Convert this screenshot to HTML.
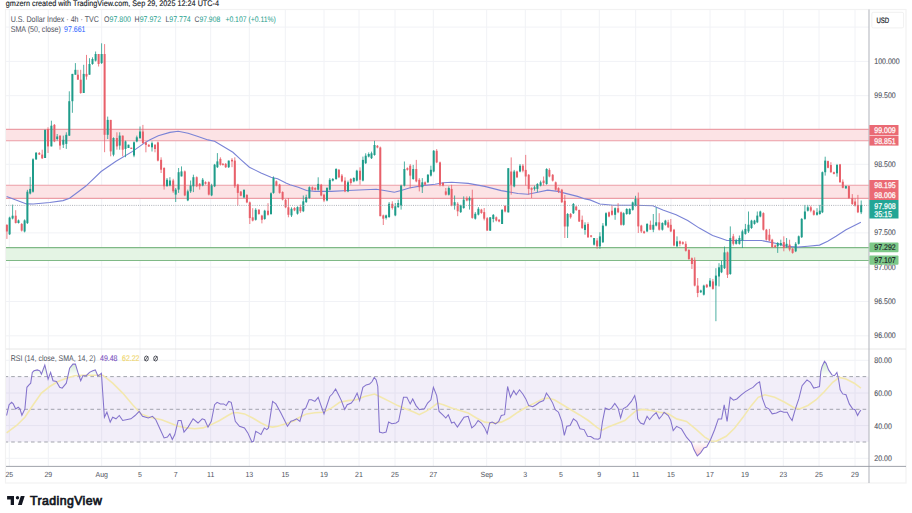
<!DOCTYPE html>
<html><head><meta charset="utf-8"><style>
html,body{margin:0;padding:0;background:#fff;}
body{width:912px;height:513px;overflow:hidden;position:relative;font-family:"Liberation Sans", sans-serif;}
.t{position:absolute;white-space:nowrap;line-height:1;}
</style></head><body>
<svg width="912" height="513" viewBox="0 0 912 513" style="position:absolute;left:0;top:0"><rect x="5.5" y="9.5" width="900.5" height="473.5" fill="#fff" stroke="#f2f2f2" stroke-width="1.2"/><line x1="9.3" y1="10" x2="9.3" y2="466" stroke="#f1f2f6" stroke-width="1"/><line x1="48.3" y1="10" x2="48.3" y2="466" stroke="#f1f2f6" stroke-width="1"/><line x1="101.7" y1="10" x2="101.7" y2="466" stroke="#f1f2f6" stroke-width="1"/><line x1="140" y1="10" x2="140" y2="466" stroke="#f1f2f6" stroke-width="1"/><line x1="175.7" y1="10" x2="175.7" y2="466" stroke="#f1f2f6" stroke-width="1"/><line x1="210.7" y1="10" x2="210.7" y2="466" stroke="#f1f2f6" stroke-width="1"/><line x1="249.3" y1="10" x2="249.3" y2="466" stroke="#f1f2f6" stroke-width="1"/><line x1="285.3" y1="10" x2="285.3" y2="466" stroke="#f1f2f6" stroke-width="1"/><line x1="324" y1="10" x2="324" y2="466" stroke="#f1f2f6" stroke-width="1"/><line x1="359" y1="10" x2="359" y2="466" stroke="#f1f2f6" stroke-width="1"/><line x1="395" y1="10" x2="395" y2="466" stroke="#f1f2f6" stroke-width="1"/><line x1="433.3" y1="10" x2="433.3" y2="466" stroke="#f1f2f6" stroke-width="1"/><line x1="486.7" y1="10" x2="486.7" y2="466" stroke="#f1f2f6" stroke-width="1"/><line x1="525.3" y1="10" x2="525.3" y2="466" stroke="#f1f2f6" stroke-width="1"/><line x1="561" y1="10" x2="561" y2="466" stroke="#f1f2f6" stroke-width="1"/><line x1="599.3" y1="10" x2="599.3" y2="466" stroke="#f1f2f6" stroke-width="1"/><line x1="635.7" y1="10" x2="635.7" y2="466" stroke="#f1f2f6" stroke-width="1"/><line x1="671" y1="10" x2="671" y2="466" stroke="#f1f2f6" stroke-width="1"/><line x1="710" y1="10" x2="710" y2="466" stroke="#f1f2f6" stroke-width="1"/><line x1="745" y1="10" x2="745" y2="466" stroke="#f1f2f6" stroke-width="1"/><line x1="783.3" y1="10" x2="783.3" y2="466" stroke="#f1f2f6" stroke-width="1"/><line x1="819" y1="10" x2="819" y2="466" stroke="#f1f2f6" stroke-width="1"/><line x1="855" y1="10" x2="855" y2="466" stroke="#f1f2f6" stroke-width="1"/><line x1="6" y1="27.1" x2="869" y2="27.1" stroke="#f1f2f6" stroke-width="1"/><line x1="6" y1="61.4" x2="869" y2="61.4" stroke="#f1f2f6" stroke-width="1"/><line x1="6" y1="95.7" x2="869" y2="95.7" stroke="#f1f2f6" stroke-width="1"/><line x1="6" y1="130.0" x2="869" y2="130.0" stroke="#f1f2f6" stroke-width="1"/><line x1="6" y1="164.3" x2="869" y2="164.3" stroke="#f1f2f6" stroke-width="1"/><line x1="6" y1="198.6" x2="869" y2="198.6" stroke="#f1f2f6" stroke-width="1"/><line x1="6" y1="232.9" x2="869" y2="232.9" stroke="#f1f2f6" stroke-width="1"/><line x1="6" y1="267.2" x2="869" y2="267.2" stroke="#f1f2f6" stroke-width="1"/><line x1="6" y1="301.5" x2="869" y2="301.5" stroke="#f1f2f6" stroke-width="1"/><line x1="6" y1="335.8" x2="869" y2="335.8" stroke="#f1f2f6" stroke-width="1"/><rect x="6" y="129.4" width="863" height="11.4" fill="#fce3e5"/><line x1="6" y1="129.4" x2="869" y2="129.4" stroke="#ec9ea6" stroke-width="1.1"/><line x1="6" y1="140.8" x2="869" y2="140.8" stroke="#ec9ea6" stroke-width="1.1"/><rect x="6" y="185.2" width="863" height="13.2" fill="#fce3e5"/><line x1="6" y1="185.2" x2="869" y2="185.2" stroke="#ec9ea6" stroke-width="1.1"/><line x1="6" y1="198.4" x2="869" y2="198.4" stroke="#ec9ea6" stroke-width="1.1"/><rect x="6" y="247.6" width="863" height="12.9" fill="#e4f4e4"/><line x1="6" y1="247.6" x2="869" y2="247.6" stroke="#7fb986" stroke-width="1.1"/><line x1="6" y1="260.5" x2="869" y2="260.5" stroke="#7fb986" stroke-width="1.1"/><polyline points="6.6,196.5 16.6,200.3 26.5,203.9 33.2,204.0 49.7,202.5 63.0,200.6 69.6,198.2 78.0,192.0 86.2,185.8 101.1,171.5 116.0,161.3 132.6,151.4 144.2,143.1 150.0,139.8 158.3,135.7 169.9,132.4 178.2,131.3 188.1,133.3 198.0,136.6 208.0,139.9 214.6,141.2 224.6,147.3 232.9,152.3 241.1,159.8 249.4,167.2 261.0,173.0 271.0,177.2 277.6,178.8 285.9,183.0 290.0,184.7 298.3,187.2 306.6,190.5 314.9,191.4 331.4,191.4 348.0,190.5 364.6,189.7 376.2,189.2 382.8,190.2 394.4,192.2 401.1,190.5 409.3,188.0 422.6,185.6 435.0,184.2 443.3,182.8 451.6,182.3 468.2,183.4 484.7,186.4 501.3,190.6 517.9,193.5 527.8,194.2 537.8,192.2 547.7,190.1 557.7,191.4 567.6,193.9 577.5,196.4 585.0,198.9 590.0,199.9 599.9,204.0 613.2,205.2 634.7,205.2 652.9,205.7 662.9,209.9 676.1,214.8 687.7,220.6 699.3,228.1 712.6,235.5 720.0,238.0 727.0,240.5 736.6,240.5 761.4,240.5 769.7,242.1 778.0,243.8 786.3,246.3 797.9,247.1 807.8,246.3 819.5,245.1 827.7,241.3 836.0,236.3 846.0,229.7 860.9,222.3" fill="none" stroke="#7a83d6" stroke-width="1.1"/><line x1="6.9" y1="224.0" x2="6.9" y2="238.9" stroke="#e8606a" stroke-width="0.8"/><rect x="5.9" y="225.0" width="2" height="6.5" fill="#e8606a"/><line x1="9.6" y1="216.7" x2="9.6" y2="235.0" stroke="#1f9c8a" stroke-width="0.8"/><rect x="8.6" y="217.6" width="2" height="16.7" fill="#1f9c8a"/><line x1="12.6" y1="204.6" x2="12.6" y2="219.4" stroke="#1f9c8a" stroke-width="0.8"/><rect x="11.6" y="215.7" width="2" height="2.8" fill="#1f9c8a"/><line x1="15.7" y1="210.2" x2="15.7" y2="223.5" stroke="#e8606a" stroke-width="0.8"/><rect x="14.7" y="215.7" width="2" height="7.3" fill="#e8606a"/><line x1="18.5" y1="219.5" x2="18.5" y2="223.5" stroke="#1f9c8a" stroke-width="0.8"/><rect x="17.5" y="220.4" width="2" height="2.6" fill="#1f9c8a"/><line x1="21.7" y1="223.0" x2="21.7" y2="231.5" stroke="#e8606a" stroke-width="0.8"/><rect x="20.7" y="224.0" width="2" height="6.6" fill="#e8606a"/><line x1="24.6" y1="219.4" x2="24.6" y2="232.4" stroke="#1f9c8a" stroke-width="0.8"/><rect x="23.6" y="220.4" width="2" height="11.1" fill="#1f9c8a"/><line x1="27.4" y1="189.8" x2="27.4" y2="224.0" stroke="#1f9c8a" stroke-width="0.8"/><rect x="26.4" y="191.7" width="2" height="31.4" fill="#1f9c8a"/><line x1="30.2" y1="176.9" x2="30.2" y2="194.4" stroke="#1f9c8a" stroke-width="0.8"/><rect x="29.2" y="188.9" width="2" height="4.6" fill="#1f9c8a"/><line x1="33.0" y1="158.3" x2="33.0" y2="192.6" stroke="#1f9c8a" stroke-width="0.8"/><rect x="32.0" y="159.3" width="2" height="32.4" fill="#1f9c8a"/><line x1="36.1" y1="152.0" x2="36.1" y2="160.0" stroke="#1f9c8a" stroke-width="0.8"/><rect x="35.1" y="152.8" width="2" height="6.5" fill="#1f9c8a"/><line x1="39.3" y1="152.0" x2="39.3" y2="155.0" stroke="#e8606a" stroke-width="0.8"/><rect x="38.3" y="153.0" width="2" height="1.5" fill="#e8606a"/><line x1="42.2" y1="149.7" x2="42.2" y2="159.0" stroke="#e8606a" stroke-width="0.8"/><rect x="41.2" y="154.6" width="2" height="3.7" fill="#e8606a"/><line x1="45.1" y1="129.8" x2="45.1" y2="158.0" stroke="#1f9c8a" stroke-width="0.8"/><rect x="44.1" y="129.8" width="2" height="28.2" fill="#1f9c8a"/><line x1="48.0" y1="127.3" x2="48.0" y2="153.0" stroke="#e8606a" stroke-width="0.8"/><rect x="47.0" y="129.0" width="2" height="17.4" fill="#e8606a"/><line x1="51.4" y1="120.7" x2="51.4" y2="146.4" stroke="#1f9c8a" stroke-width="0.8"/><rect x="50.4" y="125.7" width="2" height="20.7" fill="#1f9c8a"/><line x1="54.4" y1="124.0" x2="54.4" y2="142.2" stroke="#e8606a" stroke-width="0.8"/><rect x="53.4" y="124.9" width="2" height="16.5" fill="#e8606a"/><line x1="57.2" y1="134.0" x2="57.2" y2="140.6" stroke="#1f9c8a" stroke-width="0.8"/><rect x="56.2" y="136.5" width="2" height="2.5" fill="#1f9c8a"/><line x1="60.0" y1="135.6" x2="60.0" y2="149.7" stroke="#e8606a" stroke-width="0.8"/><rect x="59.0" y="135.6" width="2" height="10.0" fill="#e8606a"/><line x1="63.3" y1="135.6" x2="63.3" y2="148.0" stroke="#1f9c8a" stroke-width="0.8"/><rect x="62.3" y="139.8" width="2" height="4.9" fill="#1f9c8a"/><line x1="66.3" y1="132.3" x2="66.3" y2="148.9" stroke="#1f9c8a" stroke-width="0.8"/><rect x="65.3" y="134.8" width="2" height="9.1" fill="#1f9c8a"/><line x1="69.3" y1="91.3" x2="69.3" y2="136.0" stroke="#1f9c8a" stroke-width="0.8"/><rect x="68.3" y="101.2" width="2" height="34.4" fill="#1f9c8a"/><line x1="72.4" y1="73.9" x2="72.4" y2="112.8" stroke="#1f9c8a" stroke-width="0.8"/><rect x="71.4" y="73.9" width="2" height="27.3" fill="#1f9c8a"/><line x1="75.4" y1="63.1" x2="75.4" y2="74.7" stroke="#1f9c8a" stroke-width="0.8"/><rect x="74.4" y="69.8" width="2" height="4.9" fill="#1f9c8a"/><line x1="77.9" y1="69.8" x2="77.9" y2="79.7" stroke="#e8606a" stroke-width="0.8"/><rect x="76.9" y="74.7" width="2" height="5.0" fill="#e8606a"/><line x1="80.7" y1="69.8" x2="80.7" y2="93.8" stroke="#e8606a" stroke-width="0.8"/><rect x="79.7" y="79.7" width="2" height="13.3" fill="#e8606a"/><line x1="83.7" y1="64.8" x2="83.7" y2="93.0" stroke="#1f9c8a" stroke-width="0.8"/><rect x="82.7" y="73.9" width="2" height="19.1" fill="#1f9c8a"/><line x1="86.5" y1="54.9" x2="86.5" y2="79.7" stroke="#e8606a" stroke-width="0.8"/><rect x="85.5" y="73.9" width="2" height="2.6" fill="#e8606a"/><line x1="89.5" y1="58.2" x2="89.5" y2="74.7" stroke="#1f9c8a" stroke-width="0.8"/><rect x="88.5" y="64.0" width="2" height="10.7" fill="#1f9c8a"/><line x1="92.5" y1="57.3" x2="92.5" y2="64.8" stroke="#1f9c8a" stroke-width="0.8"/><rect x="91.5" y="59.0" width="2" height="5.0" fill="#1f9c8a"/><line x1="95.6" y1="51.5" x2="95.6" y2="61.5" stroke="#1f9c8a" stroke-width="0.8"/><rect x="94.6" y="54.0" width="2" height="6.6" fill="#1f9c8a"/><line x1="98.6" y1="54.0" x2="98.6" y2="66.5" stroke="#e8606a" stroke-width="0.8"/><rect x="97.6" y="54.0" width="2" height="10.0" fill="#e8606a"/><line x1="101.6" y1="43.3" x2="101.6" y2="64.0" stroke="#1f9c8a" stroke-width="0.8"/><rect x="100.6" y="54.0" width="2" height="9.1" fill="#1f9c8a"/><line x1="104.6" y1="44.1" x2="104.6" y2="152.2" stroke="#e8606a" stroke-width="0.8"/><rect x="103.6" y="54.0" width="2" height="80.8" fill="#e8606a"/><line x1="107.7" y1="116.6" x2="107.7" y2="139.0" stroke="#1f9c8a" stroke-width="0.8"/><rect x="106.7" y="119.9" width="2" height="14.9" fill="#1f9c8a"/><line x1="110.7" y1="119.9" x2="110.7" y2="156.3" stroke="#e8606a" stroke-width="0.8"/><rect x="109.7" y="119.9" width="2" height="31.5" fill="#e8606a"/><line x1="113.5" y1="137.3" x2="113.5" y2="156.3" stroke="#1f9c8a" stroke-width="0.8"/><rect x="112.5" y="138.0" width="2" height="16.7" fill="#1f9c8a"/><line x1="116.9" y1="132.3" x2="116.9" y2="149.7" stroke="#e8606a" stroke-width="0.8"/><rect x="115.9" y="138.0" width="2" height="8.4" fill="#e8606a"/><line x1="119.7" y1="132.3" x2="119.7" y2="149.7" stroke="#1f9c8a" stroke-width="0.8"/><rect x="118.7" y="135.6" width="2" height="10.0" fill="#1f9c8a"/><line x1="122.7" y1="135.6" x2="122.7" y2="156.3" stroke="#e8606a" stroke-width="0.8"/><rect x="121.7" y="135.6" width="2" height="14.1" fill="#e8606a"/><line x1="125.5" y1="140.6" x2="125.5" y2="157.2" stroke="#1f9c8a" stroke-width="0.8"/><rect x="124.5" y="141.4" width="2" height="7.5" fill="#1f9c8a"/><line x1="128.5" y1="144.7" x2="128.5" y2="148.0" stroke="#1f9c8a" stroke-width="0.8"/><rect x="127.5" y="144.7" width="2" height="3.3" fill="#1f9c8a"/><line x1="131.3" y1="147.7" x2="131.3" y2="148.9" stroke="#e8606a" stroke-width="0.8"/><rect x="130.3" y="147.7" width="2" height="1.2" fill="#e8606a"/><line x1="134.0" y1="141.4" x2="134.0" y2="157.2" stroke="#1f9c8a" stroke-width="0.8"/><rect x="133.0" y="142.3" width="2" height="13.2" fill="#1f9c8a"/><line x1="136.8" y1="135.6" x2="136.8" y2="142.3" stroke="#1f9c8a" stroke-width="0.8"/><rect x="135.8" y="137.3" width="2" height="4.1" fill="#1f9c8a"/><line x1="140.0" y1="126.5" x2="140.0" y2="139.0" stroke="#1f9c8a" stroke-width="0.8"/><rect x="139.0" y="131.5" width="2" height="6.5" fill="#1f9c8a"/><line x1="142.9" y1="124.9" x2="142.9" y2="143.9" stroke="#e8606a" stroke-width="0.8"/><rect x="141.9" y="131.5" width="2" height="11.5" fill="#e8606a"/><line x1="145.9" y1="141.5" x2="145.9" y2="152.3" stroke="#e8606a" stroke-width="0.8"/><rect x="144.9" y="142.4" width="2" height="2.5" fill="#e8606a"/><line x1="148.8" y1="144.0" x2="148.8" y2="147.0" stroke="#e8606a" stroke-width="0.8"/><rect x="147.8" y="144.9" width="2" height="1.6" fill="#e8606a"/><line x1="152.0" y1="141.5" x2="152.0" y2="151.5" stroke="#1f9c8a" stroke-width="0.8"/><rect x="151.0" y="143.2" width="2" height="4.1" fill="#1f9c8a"/><line x1="155.0" y1="144.0" x2="155.0" y2="152.3" stroke="#e8606a" stroke-width="0.8"/><rect x="154.0" y="144.9" width="2" height="4.1" fill="#e8606a"/><line x1="157.9" y1="141.5" x2="157.9" y2="161.4" stroke="#e8606a" stroke-width="0.8"/><rect x="156.9" y="142.4" width="2" height="18.2" fill="#e8606a"/><line x1="161.1" y1="157.3" x2="161.1" y2="173.0" stroke="#e8606a" stroke-width="0.8"/><rect x="160.1" y="159.8" width="2" height="9.9" fill="#e8606a"/><line x1="164.1" y1="167.2" x2="164.1" y2="189.6" stroke="#e8606a" stroke-width="0.8"/><rect x="163.1" y="168.0" width="2" height="18.3" fill="#e8606a"/><line x1="167.0" y1="178.0" x2="167.0" y2="186.3" stroke="#1f9c8a" stroke-width="0.8"/><rect x="166.0" y="179.7" width="2" height="6.6" fill="#1f9c8a"/><line x1="169.9" y1="177.2" x2="169.9" y2="186.3" stroke="#1f9c8a" stroke-width="0.8"/><rect x="168.9" y="180.5" width="2" height="5.0" fill="#1f9c8a"/><line x1="173.2" y1="178.8" x2="173.2" y2="192.9" stroke="#e8606a" stroke-width="0.8"/><rect x="172.2" y="180.5" width="2" height="10.8" fill="#e8606a"/><line x1="175.7" y1="188.0" x2="175.7" y2="202.0" stroke="#1f9c8a" stroke-width="0.8"/><rect x="174.7" y="189.6" width="2" height="5.0" fill="#1f9c8a"/><line x1="178.6" y1="168.0" x2="178.6" y2="192.9" stroke="#1f9c8a" stroke-width="0.8"/><rect x="177.6" y="172.2" width="2" height="17.4" fill="#1f9c8a"/><line x1="181.5" y1="166.4" x2="181.5" y2="176.4" stroke="#1f9c8a" stroke-width="0.8"/><rect x="180.5" y="171.4" width="2" height="5.0" fill="#1f9c8a"/><line x1="184.8" y1="170.5" x2="184.8" y2="196.2" stroke="#e8606a" stroke-width="0.8"/><rect x="183.8" y="171.4" width="2" height="24.0" fill="#e8606a"/><line x1="187.8" y1="189.6" x2="187.8" y2="201.2" stroke="#1f9c8a" stroke-width="0.8"/><rect x="186.8" y="191.3" width="2" height="9.1" fill="#1f9c8a"/><line x1="190.6" y1="180.5" x2="190.6" y2="192.9" stroke="#1f9c8a" stroke-width="0.8"/><rect x="189.6" y="185.5" width="2" height="5.8" fill="#1f9c8a"/><line x1="193.4" y1="174.7" x2="193.4" y2="192.1" stroke="#1f9c8a" stroke-width="0.8"/><rect x="192.4" y="177.2" width="2" height="9.1" fill="#1f9c8a"/><line x1="196.7" y1="176.4" x2="196.7" y2="187.1" stroke="#e8606a" stroke-width="0.8"/><rect x="195.7" y="177.2" width="2" height="9.1" fill="#e8606a"/><line x1="199.7" y1="183.0" x2="199.7" y2="189.6" stroke="#e8606a" stroke-width="0.8"/><rect x="198.7" y="183.8" width="2" height="2.5" fill="#e8606a"/><line x1="202.7" y1="178.0" x2="202.7" y2="186.3" stroke="#1f9c8a" stroke-width="0.8"/><rect x="201.7" y="179.7" width="2" height="5.8" fill="#1f9c8a"/><line x1="205.5" y1="181.3" x2="205.5" y2="184.6" stroke="#e8606a" stroke-width="0.8"/><rect x="204.5" y="182.1" width="2" height="1.7" fill="#e8606a"/><line x1="208.8" y1="181.3" x2="208.8" y2="195.4" stroke="#e8606a" stroke-width="0.8"/><rect x="207.8" y="182.1" width="2" height="12.5" fill="#e8606a"/><line x1="211.6" y1="183.8" x2="211.6" y2="196.2" stroke="#1f9c8a" stroke-width="0.8"/><rect x="210.6" y="185.5" width="2" height="9.9" fill="#1f9c8a"/><line x1="214.6" y1="163.9" x2="214.6" y2="187.1" stroke="#1f9c8a" stroke-width="0.8"/><rect x="213.6" y="164.7" width="2" height="21.6" fill="#1f9c8a"/><line x1="217.4" y1="153.1" x2="217.4" y2="168.0" stroke="#1f9c8a" stroke-width="0.8"/><rect x="216.4" y="161.4" width="2" height="5.8" fill="#1f9c8a"/><line x1="220.4" y1="157.3" x2="220.4" y2="165.6" stroke="#e8606a" stroke-width="0.8"/><rect x="219.4" y="158.9" width="2" height="5.8" fill="#e8606a"/><line x1="222.9" y1="163.0" x2="222.9" y2="165.6" stroke="#e8606a" stroke-width="0.8"/><rect x="221.9" y="163.9" width="2" height="1.0" fill="#e8606a"/><line x1="225.7" y1="163.0" x2="225.7" y2="168.0" stroke="#e8606a" stroke-width="0.8"/><rect x="224.7" y="163.9" width="2" height="3.3" fill="#e8606a"/><line x1="228.7" y1="160.6" x2="228.7" y2="168.0" stroke="#1f9c8a" stroke-width="0.8"/><rect x="227.7" y="160.6" width="2" height="6.6" fill="#1f9c8a"/><line x1="232.0" y1="158.1" x2="232.0" y2="167.2" stroke="#e8606a" stroke-width="0.8"/><rect x="231.0" y="159.8" width="2" height="1.6" fill="#e8606a"/><line x1="234.8" y1="157.3" x2="234.8" y2="188.0" stroke="#e8606a" stroke-width="0.8"/><rect x="233.8" y="160.6" width="2" height="25.7" fill="#e8606a"/><line x1="237.8" y1="183.8" x2="237.8" y2="205.7" stroke="#e8606a" stroke-width="0.8"/><rect x="236.8" y="184.6" width="2" height="8.3" fill="#e8606a"/><line x1="240.8" y1="191.0" x2="240.8" y2="196.2" stroke="#e8606a" stroke-width="0.8"/><rect x="239.8" y="191.6" width="2" height="4.1" fill="#e8606a"/><line x1="244.0" y1="189.1" x2="244.0" y2="198.2" stroke="#1f9c8a" stroke-width="0.8"/><rect x="243.0" y="190.0" width="2" height="7.4" fill="#1f9c8a"/><line x1="246.9" y1="194.1" x2="246.9" y2="203.2" stroke="#e8606a" stroke-width="0.8"/><rect x="245.9" y="195.0" width="2" height="7.4" fill="#e8606a"/><line x1="249.8" y1="201.5" x2="249.8" y2="224.0" stroke="#e8606a" stroke-width="0.8"/><rect x="248.8" y="202.4" width="2" height="15.7" fill="#e8606a"/><line x1="252.7" y1="208.2" x2="252.7" y2="221.4" stroke="#e8606a" stroke-width="0.8"/><rect x="251.7" y="217.3" width="2" height="3.3" fill="#e8606a"/><line x1="255.7" y1="208.2" x2="255.7" y2="220.6" stroke="#1f9c8a" stroke-width="0.8"/><rect x="254.7" y="209.8" width="2" height="10.0" fill="#1f9c8a"/><line x1="258.9" y1="209.0" x2="258.9" y2="214.8" stroke="#e8606a" stroke-width="0.8"/><rect x="257.9" y="209.8" width="2" height="4.2" fill="#e8606a"/><line x1="261.9" y1="214.8" x2="261.9" y2="223.4" stroke="#e8606a" stroke-width="0.8"/><rect x="260.9" y="215.6" width="2" height="4.2" fill="#e8606a"/><line x1="264.7" y1="209.8" x2="264.7" y2="219.8" stroke="#1f9c8a" stroke-width="0.8"/><rect x="263.7" y="210.7" width="2" height="8.3" fill="#1f9c8a"/><line x1="268.0" y1="203.2" x2="268.0" y2="215.6" stroke="#e8606a" stroke-width="0.8"/><rect x="267.0" y="210.7" width="2" height="4.1" fill="#e8606a"/><line x1="271.0" y1="192.4" x2="271.0" y2="214.8" stroke="#1f9c8a" stroke-width="0.8"/><rect x="270.0" y="193.3" width="2" height="20.7" fill="#1f9c8a"/><line x1="273.5" y1="176.4" x2="273.5" y2="193.7" stroke="#1f9c8a" stroke-width="0.8"/><rect x="272.5" y="178.0" width="2" height="14.9" fill="#1f9c8a"/><line x1="276.4" y1="180.5" x2="276.4" y2="186.3" stroke="#e8606a" stroke-width="0.8"/><rect x="275.4" y="181.3" width="2" height="4.2" fill="#e8606a"/><line x1="279.6" y1="183.8" x2="279.6" y2="193.7" stroke="#e8606a" stroke-width="0.8"/><rect x="278.6" y="184.6" width="2" height="8.3" fill="#e8606a"/><line x1="282.6" y1="191.3" x2="282.6" y2="200.4" stroke="#e8606a" stroke-width="0.8"/><rect x="281.6" y="192.0" width="2" height="7.5" fill="#e8606a"/><line x1="285.6" y1="199.0" x2="285.6" y2="208.2" stroke="#e8606a" stroke-width="0.8"/><rect x="284.6" y="199.9" width="2" height="7.4" fill="#e8606a"/><line x1="288.4" y1="198.0" x2="288.4" y2="217.3" stroke="#e8606a" stroke-width="0.8"/><rect x="287.4" y="207.3" width="2" height="7.5" fill="#e8606a"/><line x1="291.5" y1="207.3" x2="291.5" y2="217.0" stroke="#1f9c8a" stroke-width="0.8"/><rect x="290.5" y="208.8" width="2" height="6.6" fill="#1f9c8a"/><line x1="294.5" y1="207.1" x2="294.5" y2="211.2" stroke="#e8606a" stroke-width="0.8"/><rect x="293.5" y="208.0" width="2" height="2.4" fill="#e8606a"/><line x1="297.5" y1="206.3" x2="297.5" y2="214.6" stroke="#1f9c8a" stroke-width="0.8"/><rect x="296.5" y="207.1" width="2" height="6.6" fill="#1f9c8a"/><line x1="300.4" y1="204.6" x2="300.4" y2="212.9" stroke="#e8606a" stroke-width="0.8"/><rect x="299.4" y="207.1" width="2" height="4.1" fill="#e8606a"/><line x1="303.3" y1="195.5" x2="303.3" y2="212.1" stroke="#1f9c8a" stroke-width="0.8"/><rect x="302.3" y="201.3" width="2" height="9.9" fill="#1f9c8a"/><line x1="306.2" y1="194.7" x2="306.2" y2="203.0" stroke="#1f9c8a" stroke-width="0.8"/><rect x="305.2" y="197.2" width="2" height="4.9" fill="#1f9c8a"/><line x1="309.4" y1="186.4" x2="309.4" y2="198.8" stroke="#1f9c8a" stroke-width="0.8"/><rect x="308.4" y="187.2" width="2" height="10.8" fill="#1f9c8a"/><line x1="312.4" y1="186.4" x2="312.4" y2="190.5" stroke="#e8606a" stroke-width="0.8"/><rect x="311.4" y="187.2" width="2" height="2.5" fill="#e8606a"/><line x1="315.2" y1="187.2" x2="315.2" y2="190.5" stroke="#e8606a" stroke-width="0.8"/><rect x="314.2" y="188.0" width="2" height="1.7" fill="#e8606a"/><line x1="318.2" y1="177.3" x2="318.2" y2="190.5" stroke="#1f9c8a" stroke-width="0.8"/><rect x="317.2" y="183.9" width="2" height="5.8" fill="#1f9c8a"/><line x1="321.2" y1="183.9" x2="321.2" y2="196.3" stroke="#e8606a" stroke-width="0.8"/><rect x="320.2" y="184.7" width="2" height="10.8" fill="#e8606a"/><line x1="324.0" y1="193.8" x2="324.0" y2="202.1" stroke="#e8606a" stroke-width="0.8"/><rect x="323.0" y="194.7" width="2" height="5.8" fill="#e8606a"/><line x1="327.0" y1="187.2" x2="327.0" y2="201.3" stroke="#1f9c8a" stroke-width="0.8"/><rect x="326.0" y="188.0" width="2" height="12.5" fill="#1f9c8a"/><line x1="329.8" y1="178.1" x2="329.8" y2="190.5" stroke="#1f9c8a" stroke-width="0.8"/><rect x="328.8" y="179.8" width="2" height="9.9" fill="#1f9c8a"/><line x1="332.8" y1="178.0" x2="332.8" y2="181.4" stroke="#1f9c8a" stroke-width="0.8"/><rect x="331.8" y="179.0" width="2" height="1.6" fill="#1f9c8a"/><line x1="336.1" y1="168.2" x2="336.1" y2="179.8" stroke="#1f9c8a" stroke-width="0.8"/><rect x="335.1" y="169.0" width="2" height="10.0" fill="#1f9c8a"/><line x1="338.9" y1="169.0" x2="338.9" y2="178.1" stroke="#e8606a" stroke-width="0.8"/><rect x="337.9" y="169.8" width="2" height="7.5" fill="#e8606a"/><line x1="341.9" y1="174.0" x2="341.9" y2="182.3" stroke="#e8606a" stroke-width="0.8"/><rect x="340.9" y="175.6" width="2" height="5.8" fill="#e8606a"/><line x1="345.0" y1="177.3" x2="345.0" y2="192.2" stroke="#e8606a" stroke-width="0.8"/><rect x="344.0" y="180.6" width="2" height="10.8" fill="#e8606a"/><line x1="348.0" y1="180.6" x2="348.0" y2="192.2" stroke="#1f9c8a" stroke-width="0.8"/><rect x="347.0" y="182.3" width="2" height="9.1" fill="#1f9c8a"/><line x1="350.8" y1="178.1" x2="350.8" y2="184.7" stroke="#e8606a" stroke-width="0.8"/><rect x="349.8" y="179.0" width="2" height="4.0" fill="#e8606a"/><line x1="353.8" y1="177.3" x2="353.8" y2="182.3" stroke="#1f9c8a" stroke-width="0.8"/><rect x="352.8" y="178.0" width="2" height="3.4" fill="#1f9c8a"/><line x1="356.8" y1="169.8" x2="356.8" y2="181.4" stroke="#1f9c8a" stroke-width="0.8"/><rect x="355.8" y="170.7" width="2" height="9.9" fill="#1f9c8a"/><line x1="360.0" y1="167.3" x2="360.0" y2="184.7" stroke="#e8606a" stroke-width="0.8"/><rect x="359.0" y="170.7" width="2" height="9.1" fill="#e8606a"/><line x1="362.9" y1="156.6" x2="362.9" y2="181.4" stroke="#1f9c8a" stroke-width="0.8"/><rect x="361.9" y="159.9" width="2" height="20.7" fill="#1f9c8a"/><line x1="365.7" y1="153.3" x2="365.7" y2="164.0" stroke="#1f9c8a" stroke-width="0.8"/><rect x="364.7" y="155.7" width="2" height="7.5" fill="#1f9c8a"/><line x1="368.7" y1="152.4" x2="368.7" y2="157.4" stroke="#1f9c8a" stroke-width="0.8"/><rect x="367.7" y="154.0" width="2" height="2.6" fill="#1f9c8a"/><line x1="371.5" y1="151.6" x2="371.5" y2="159.0" stroke="#1f9c8a" stroke-width="0.8"/><rect x="370.5" y="153.3" width="2" height="4.9" fill="#1f9c8a"/><line x1="374.5" y1="140.8" x2="374.5" y2="155.7" stroke="#1f9c8a" stroke-width="0.8"/><rect x="373.5" y="145.0" width="2" height="10.0" fill="#1f9c8a"/><line x1="377.4" y1="145.0" x2="377.4" y2="148.3" stroke="#e8606a" stroke-width="0.8"/><rect x="376.4" y="145.8" width="2" height="1.7" fill="#e8606a"/><line x1="380.3" y1="146.6" x2="380.3" y2="216.2" stroke="#e8606a" stroke-width="0.8"/><rect x="379.3" y="147.5" width="2" height="68.7" fill="#e8606a"/><line x1="383.3" y1="214.6" x2="383.3" y2="225.0" stroke="#e8606a" stroke-width="0.8"/><rect x="382.3" y="215.4" width="2" height="3.3" fill="#e8606a"/><line x1="386.1" y1="214.6" x2="386.1" y2="219.5" stroke="#1f9c8a" stroke-width="0.8"/><rect x="385.1" y="215.4" width="2" height="2.5" fill="#1f9c8a"/><line x1="389.1" y1="202.1" x2="389.1" y2="217.9" stroke="#1f9c8a" stroke-width="0.8"/><rect x="388.1" y="203.8" width="2" height="13.2" fill="#1f9c8a"/><line x1="392.3" y1="201.3" x2="392.3" y2="209.6" stroke="#e8606a" stroke-width="0.8"/><rect x="391.3" y="203.8" width="2" height="4.2" fill="#e8606a"/><line x1="395.3" y1="203.0" x2="395.3" y2="216.2" stroke="#1f9c8a" stroke-width="0.8"/><rect x="394.3" y="206.3" width="2" height="9.1" fill="#1f9c8a"/><line x1="398.2" y1="199.7" x2="398.2" y2="207.9" stroke="#1f9c8a" stroke-width="0.8"/><rect x="397.2" y="203.0" width="2" height="4.1" fill="#1f9c8a"/><line x1="401.1" y1="184.7" x2="401.1" y2="209.6" stroke="#1f9c8a" stroke-width="0.8"/><rect x="400.1" y="185.6" width="2" height="19.9" fill="#1f9c8a"/><line x1="404.4" y1="161.5" x2="404.4" y2="186.4" stroke="#1f9c8a" stroke-width="0.8"/><rect x="403.4" y="169.0" width="2" height="16.6" fill="#1f9c8a"/><line x1="407.4" y1="167.4" x2="407.4" y2="170.6" stroke="#e8606a" stroke-width="0.8"/><rect x="406.4" y="168.2" width="2" height="1.6" fill="#e8606a"/><line x1="410.2" y1="164.0" x2="410.2" y2="188.3" stroke="#e8606a" stroke-width="0.8"/><rect x="409.2" y="165.7" width="2" height="9.9" fill="#e8606a"/><line x1="413.2" y1="164.9" x2="413.2" y2="179.8" stroke="#1f9c8a" stroke-width="0.8"/><rect x="412.2" y="169.0" width="2" height="10.0" fill="#1f9c8a"/><line x1="416.3" y1="159.9" x2="416.3" y2="182.3" stroke="#e8606a" stroke-width="0.8"/><rect x="415.3" y="169.0" width="2" height="12.4" fill="#e8606a"/><line x1="419.3" y1="178.1" x2="419.3" y2="191.4" stroke="#e8606a" stroke-width="0.8"/><rect x="418.3" y="179.8" width="2" height="7.4" fill="#e8606a"/><line x1="422.3" y1="178.1" x2="422.3" y2="193.0" stroke="#1f9c8a" stroke-width="0.8"/><rect x="421.3" y="182.3" width="2" height="4.9" fill="#1f9c8a"/><line x1="425.1" y1="181.4" x2="425.1" y2="185.6" stroke="#e8606a" stroke-width="0.8"/><rect x="424.1" y="182.3" width="2" height="2.4" fill="#e8606a"/><line x1="427.9" y1="174.0" x2="427.9" y2="183.1" stroke="#1f9c8a" stroke-width="0.8"/><rect x="426.9" y="174.8" width="2" height="7.5" fill="#1f9c8a"/><line x1="430.9" y1="165.7" x2="430.9" y2="176.5" stroke="#1f9c8a" stroke-width="0.8"/><rect x="429.9" y="169.8" width="2" height="5.8" fill="#1f9c8a"/><line x1="433.7" y1="150.0" x2="433.7" y2="172.3" stroke="#1f9c8a" stroke-width="0.8"/><rect x="432.7" y="150.8" width="2" height="20.7" fill="#1f9c8a"/><line x1="436.7" y1="149.1" x2="436.7" y2="163.2" stroke="#e8606a" stroke-width="0.8"/><rect x="435.7" y="150.8" width="2" height="11.6" fill="#e8606a"/><line x1="440.0" y1="161.6" x2="440.0" y2="186.4" stroke="#e8606a" stroke-width="0.8"/><rect x="439.0" y="162.4" width="2" height="22.4" fill="#e8606a"/><line x1="443.0" y1="182.3" x2="443.0" y2="186.4" stroke="#e8606a" stroke-width="0.8"/><rect x="442.0" y="182.8" width="2" height="2.8" fill="#e8606a"/><line x1="445.8" y1="188.0" x2="445.8" y2="195.5" stroke="#e8606a" stroke-width="0.8"/><rect x="444.8" y="191.4" width="2" height="3.3" fill="#e8606a"/><line x1="448.8" y1="186.4" x2="448.8" y2="195.5" stroke="#1f9c8a" stroke-width="0.8"/><rect x="447.8" y="188.0" width="2" height="6.7" fill="#1f9c8a"/><line x1="451.6" y1="184.8" x2="451.6" y2="206.3" stroke="#e8606a" stroke-width="0.8"/><rect x="450.6" y="188.9" width="2" height="16.6" fill="#e8606a"/><line x1="454.6" y1="195.5" x2="454.6" y2="209.6" stroke="#1f9c8a" stroke-width="0.8"/><rect x="453.6" y="202.2" width="2" height="3.3" fill="#1f9c8a"/><line x1="457.7" y1="202.2" x2="457.7" y2="216.2" stroke="#e8606a" stroke-width="0.8"/><rect x="456.7" y="203.8" width="2" height="7.5" fill="#e8606a"/><line x1="460.7" y1="204.7" x2="460.7" y2="213.0" stroke="#1f9c8a" stroke-width="0.8"/><rect x="459.7" y="205.5" width="2" height="6.6" fill="#1f9c8a"/><line x1="463.7" y1="196.4" x2="463.7" y2="208.8" stroke="#1f9c8a" stroke-width="0.8"/><rect x="462.7" y="199.7" width="2" height="8.3" fill="#1f9c8a"/><line x1="466.8" y1="196.4" x2="466.8" y2="201.3" stroke="#e8606a" stroke-width="0.8"/><rect x="465.8" y="198.0" width="2" height="2.5" fill="#e8606a"/><line x1="469.5" y1="196.4" x2="469.5" y2="209.6" stroke="#1f9c8a" stroke-width="0.8"/><rect x="468.5" y="198.0" width="2" height="2.5" fill="#1f9c8a"/><line x1="472.3" y1="189.7" x2="472.3" y2="218.7" stroke="#e8606a" stroke-width="0.8"/><rect x="471.3" y="198.0" width="2" height="19.9" fill="#e8606a"/><line x1="475.3" y1="212.1" x2="475.3" y2="219.6" stroke="#1f9c8a" stroke-width="0.8"/><rect x="474.3" y="213.8" width="2" height="4.9" fill="#1f9c8a"/><line x1="478.4" y1="207.1" x2="478.4" y2="215.4" stroke="#1f9c8a" stroke-width="0.8"/><rect x="477.4" y="208.8" width="2" height="5.8" fill="#1f9c8a"/><line x1="481.4" y1="208.8" x2="481.4" y2="213.8" stroke="#e8606a" stroke-width="0.8"/><rect x="480.4" y="209.6" width="2" height="3.4" fill="#e8606a"/><line x1="484.2" y1="208.0" x2="484.2" y2="220.4" stroke="#e8606a" stroke-width="0.8"/><rect x="483.2" y="212.1" width="2" height="6.6" fill="#e8606a"/><line x1="487.2" y1="217.1" x2="487.2" y2="230.6" stroke="#e8606a" stroke-width="0.8"/><rect x="486.2" y="218.2" width="2" height="12.4" fill="#e8606a"/><line x1="490.2" y1="217.1" x2="490.2" y2="231.0" stroke="#1f9c8a" stroke-width="0.8"/><rect x="489.2" y="217.3" width="2" height="13.3" fill="#1f9c8a"/><line x1="493.3" y1="214.0" x2="493.3" y2="222.3" stroke="#1f9c8a" stroke-width="0.8"/><rect x="492.3" y="214.9" width="2" height="4.1" fill="#1f9c8a"/><line x1="496.3" y1="216.5" x2="496.3" y2="221.5" stroke="#e8606a" stroke-width="0.8"/><rect x="495.3" y="217.3" width="2" height="3.3" fill="#e8606a"/><line x1="499.1" y1="219.0" x2="499.1" y2="222.3" stroke="#e8606a" stroke-width="0.8"/><rect x="498.1" y="219.8" width="2" height="1.7" fill="#e8606a"/><line x1="502.1" y1="209.0" x2="502.1" y2="224.0" stroke="#1f9c8a" stroke-width="0.8"/><rect x="501.1" y="209.9" width="2" height="14.1" fill="#1f9c8a"/><line x1="505.1" y1="205.7" x2="505.1" y2="212.4" stroke="#e8606a" stroke-width="0.8"/><rect x="504.1" y="205.7" width="2" height="5.8" fill="#e8606a"/><line x1="508.3" y1="168.2" x2="508.3" y2="212.4" stroke="#1f9c8a" stroke-width="0.8"/><rect x="507.3" y="168.2" width="2" height="44.2" fill="#1f9c8a"/><line x1="511.2" y1="157.4" x2="511.2" y2="194.7" stroke="#e8606a" stroke-width="0.8"/><rect x="510.2" y="171.5" width="2" height="13.3" fill="#e8606a"/><line x1="514.2" y1="169.9" x2="514.2" y2="187.3" stroke="#1f9c8a" stroke-width="0.8"/><rect x="513.2" y="171.5" width="2" height="14.9" fill="#1f9c8a"/><line x1="517.0" y1="170.7" x2="517.0" y2="178.1" stroke="#e8606a" stroke-width="0.8"/><rect x="516.0" y="171.5" width="2" height="5.8" fill="#e8606a"/><line x1="520.0" y1="164.0" x2="520.0" y2="172.3" stroke="#1f9c8a" stroke-width="0.8"/><rect x="519.0" y="165.7" width="2" height="5.8" fill="#1f9c8a"/><line x1="522.9" y1="164.0" x2="522.9" y2="172.3" stroke="#e8606a" stroke-width="0.8"/><rect x="521.9" y="165.7" width="2" height="5.0" fill="#e8606a"/><line x1="525.7" y1="154.9" x2="525.7" y2="185.6" stroke="#e8606a" stroke-width="0.8"/><rect x="524.7" y="169.9" width="2" height="6.6" fill="#e8606a"/><line x1="528.7" y1="174.0" x2="528.7" y2="194.7" stroke="#e8606a" stroke-width="0.8"/><rect x="527.7" y="174.8" width="2" height="14.1" fill="#e8606a"/><line x1="531.6" y1="187.3" x2="531.6" y2="198.0" stroke="#e8606a" stroke-width="0.8"/><rect x="530.6" y="188.1" width="2" height="1.6" fill="#e8606a"/><line x1="534.5" y1="185.6" x2="534.5" y2="190.6" stroke="#1f9c8a" stroke-width="0.8"/><rect x="533.5" y="187.3" width="2" height="1.6" fill="#1f9c8a"/><line x1="537.4" y1="183.1" x2="537.4" y2="192.2" stroke="#1f9c8a" stroke-width="0.8"/><rect x="536.4" y="184.0" width="2" height="4.9" fill="#1f9c8a"/><line x1="540.6" y1="180.6" x2="540.6" y2="186.4" stroke="#1f9c8a" stroke-width="0.8"/><rect x="539.6" y="182.3" width="2" height="3.3" fill="#1f9c8a"/><line x1="543.6" y1="176.5" x2="543.6" y2="185.6" stroke="#e8606a" stroke-width="0.8"/><rect x="542.6" y="180.6" width="2" height="2.5" fill="#e8606a"/><line x1="546.6" y1="168.2" x2="546.6" y2="184.8" stroke="#1f9c8a" stroke-width="0.8"/><rect x="545.6" y="169.0" width="2" height="15.0" fill="#1f9c8a"/><line x1="549.4" y1="168.2" x2="549.4" y2="177.3" stroke="#e8606a" stroke-width="0.8"/><rect x="548.4" y="169.9" width="2" height="6.6" fill="#e8606a"/><line x1="552.7" y1="174.0" x2="552.7" y2="181.5" stroke="#e8606a" stroke-width="0.8"/><rect x="551.7" y="174.8" width="2" height="5.8" fill="#e8606a"/><line x1="555.7" y1="181.5" x2="555.7" y2="190.6" stroke="#e8606a" stroke-width="0.8"/><rect x="554.7" y="182.3" width="2" height="7.4" fill="#e8606a"/><line x1="558.5" y1="187.3" x2="558.5" y2="193.0" stroke="#e8606a" stroke-width="0.8"/><rect x="557.5" y="188.1" width="2" height="3.3" fill="#e8606a"/><line x1="561.8" y1="188.9" x2="561.8" y2="203.0" stroke="#e8606a" stroke-width="0.8"/><rect x="560.8" y="189.7" width="2" height="12.5" fill="#e8606a"/><line x1="564.8" y1="195.0" x2="564.8" y2="238.0" stroke="#e8606a" stroke-width="0.8"/><rect x="563.8" y="200.8" width="2" height="25.7" fill="#e8606a"/><line x1="567.6" y1="213.0" x2="567.6" y2="238.0" stroke="#1f9c8a" stroke-width="0.8"/><rect x="566.6" y="214.0" width="2" height="12.5" fill="#1f9c8a"/><line x1="570.6" y1="213.0" x2="570.6" y2="218.7" stroke="#e8606a" stroke-width="0.8"/><rect x="569.6" y="214.0" width="2" height="3.3" fill="#e8606a"/><line x1="573.4" y1="203.0" x2="573.4" y2="214.0" stroke="#1f9c8a" stroke-width="0.8"/><rect x="572.4" y="204.0" width="2" height="9.2" fill="#1f9c8a"/><line x1="576.2" y1="206.0" x2="576.2" y2="211.0" stroke="#e8606a" stroke-width="0.8"/><rect x="575.2" y="206.6" width="2" height="3.4" fill="#e8606a"/><line x1="579.2" y1="209.6" x2="579.2" y2="222.0" stroke="#e8606a" stroke-width="0.8"/><rect x="578.2" y="210.0" width="2" height="11.5" fill="#e8606a"/><line x1="582.2" y1="215.6" x2="582.2" y2="228.9" stroke="#e8606a" stroke-width="0.8"/><rect x="581.2" y="219.8" width="2" height="8.3" fill="#e8606a"/><line x1="585.0" y1="222.3" x2="585.0" y2="234.7" stroke="#1f9c8a" stroke-width="0.8"/><rect x="584.0" y="224.8" width="2" height="5.2" fill="#1f9c8a"/><line x1="588.0" y1="222.3" x2="588.0" y2="238.0" stroke="#e8606a" stroke-width="0.8"/><rect x="587.0" y="224.0" width="2" height="13.2" fill="#e8606a"/><line x1="591.1" y1="235.0" x2="591.1" y2="237.5" stroke="#e8606a" stroke-width="0.8"/><rect x="590.1" y="235.5" width="2" height="1.2" fill="#e8606a"/><line x1="594.1" y1="238.0" x2="594.1" y2="245.5" stroke="#1f9c8a" stroke-width="0.8"/><rect x="593.1" y="238.0" width="2" height="6.7" fill="#1f9c8a"/><line x1="597.1" y1="238.0" x2="597.1" y2="248.8" stroke="#e8606a" stroke-width="0.8"/><rect x="596.1" y="240.5" width="2" height="5.8" fill="#e8606a"/><line x1="599.9" y1="232.2" x2="599.9" y2="248.8" stroke="#1f9c8a" stroke-width="0.8"/><rect x="598.9" y="236.4" width="2" height="9.9" fill="#1f9c8a"/><line x1="602.9" y1="223.1" x2="602.9" y2="243.0" stroke="#1f9c8a" stroke-width="0.8"/><rect x="601.9" y="225.6" width="2" height="16.6" fill="#1f9c8a"/><line x1="606.0" y1="212.3" x2="606.0" y2="226.4" stroke="#1f9c8a" stroke-width="0.8"/><rect x="605.0" y="213.2" width="2" height="12.4" fill="#1f9c8a"/><line x1="609.0" y1="211.5" x2="609.0" y2="217.3" stroke="#e8606a" stroke-width="0.8"/><rect x="608.0" y="212.3" width="2" height="4.2" fill="#e8606a"/><line x1="612.0" y1="205.7" x2="612.0" y2="215.6" stroke="#e8606a" stroke-width="0.8"/><rect x="611.0" y="210.7" width="2" height="4.1" fill="#e8606a"/><line x1="615.1" y1="207.4" x2="615.1" y2="219.8" stroke="#1f9c8a" stroke-width="0.8"/><rect x="614.1" y="208.2" width="2" height="6.6" fill="#1f9c8a"/><line x1="618.1" y1="203.2" x2="618.1" y2="213.2" stroke="#e8606a" stroke-width="0.8"/><rect x="617.1" y="208.2" width="2" height="4.1" fill="#e8606a"/><line x1="621.1" y1="211.5" x2="621.1" y2="225.6" stroke="#e8606a" stroke-width="0.8"/><rect x="620.1" y="212.3" width="2" height="12.5" fill="#e8606a"/><line x1="623.6" y1="212.3" x2="623.6" y2="225.6" stroke="#1f9c8a" stroke-width="0.8"/><rect x="622.6" y="213.2" width="2" height="11.6" fill="#1f9c8a"/><line x1="626.7" y1="208.2" x2="626.7" y2="214.8" stroke="#1f9c8a" stroke-width="0.8"/><rect x="625.7" y="209.0" width="2" height="5.0" fill="#1f9c8a"/><line x1="629.7" y1="208.2" x2="629.7" y2="214.8" stroke="#1f9c8a" stroke-width="0.8"/><rect x="628.7" y="209.0" width="2" height="5.0" fill="#1f9c8a"/><line x1="632.7" y1="201.6" x2="632.7" y2="210.7" stroke="#1f9c8a" stroke-width="0.8"/><rect x="631.7" y="202.4" width="2" height="7.5" fill="#1f9c8a"/><line x1="635.5" y1="195.8" x2="635.5" y2="206.5" stroke="#1f9c8a" stroke-width="0.8"/><rect x="634.5" y="199.0" width="2" height="6.7" fill="#1f9c8a"/><line x1="638.3" y1="192.5" x2="638.3" y2="233.0" stroke="#e8606a" stroke-width="0.8"/><rect x="637.3" y="199.0" width="2" height="27.4" fill="#e8606a"/><line x1="641.3" y1="224.8" x2="641.3" y2="233.0" stroke="#e8606a" stroke-width="0.8"/><rect x="640.3" y="225.6" width="2" height="5.8" fill="#e8606a"/><line x1="644.1" y1="230.6" x2="644.1" y2="233.9" stroke="#e8606a" stroke-width="0.8"/><rect x="643.1" y="231.4" width="2" height="1.6" fill="#e8606a"/><line x1="647.1" y1="223.1" x2="647.1" y2="232.2" stroke="#1f9c8a" stroke-width="0.8"/><rect x="646.1" y="224.0" width="2" height="7.4" fill="#1f9c8a"/><line x1="650.4" y1="220.6" x2="650.4" y2="229.7" stroke="#e8606a" stroke-width="0.8"/><rect x="649.4" y="224.8" width="2" height="4.9" fill="#e8606a"/><line x1="653.3" y1="214.0" x2="653.3" y2="232.2" stroke="#1f9c8a" stroke-width="0.8"/><rect x="652.3" y="224.8" width="2" height="4.9" fill="#1f9c8a"/><line x1="656.2" y1="207.4" x2="656.2" y2="226.4" stroke="#1f9c8a" stroke-width="0.8"/><rect x="655.2" y="222.3" width="2" height="3.3" fill="#1f9c8a"/><line x1="659.2" y1="213.2" x2="659.2" y2="230.6" stroke="#e8606a" stroke-width="0.8"/><rect x="658.2" y="222.3" width="2" height="7.4" fill="#e8606a"/><line x1="662.4" y1="222.3" x2="662.4" y2="230.6" stroke="#1f9c8a" stroke-width="0.8"/><rect x="661.4" y="223.0" width="2" height="6.7" fill="#1f9c8a"/><line x1="665.4" y1="219.8" x2="665.4" y2="225.6" stroke="#1f9c8a" stroke-width="0.8"/><rect x="664.4" y="220.6" width="2" height="4.2" fill="#1f9c8a"/><line x1="668.2" y1="219.8" x2="668.2" y2="228.1" stroke="#e8606a" stroke-width="0.8"/><rect x="667.2" y="222.3" width="2" height="5.0" fill="#e8606a"/><line x1="670.8" y1="219.0" x2="670.8" y2="232.2" stroke="#e8606a" stroke-width="0.8"/><rect x="669.8" y="224.8" width="2" height="6.6" fill="#e8606a"/><line x1="674.0" y1="228.9" x2="674.0" y2="246.3" stroke="#e8606a" stroke-width="0.8"/><rect x="673.0" y="229.7" width="2" height="15.8" fill="#e8606a"/><line x1="677.0" y1="236.4" x2="677.0" y2="247.0" stroke="#1f9c8a" stroke-width="0.8"/><rect x="676.0" y="241.3" width="2" height="5.0" fill="#1f9c8a"/><line x1="679.9" y1="240.5" x2="679.9" y2="246.3" stroke="#e8606a" stroke-width="0.8"/><rect x="678.9" y="241.3" width="2" height="2.5" fill="#e8606a"/><line x1="682.8" y1="241.3" x2="682.8" y2="244.7" stroke="#e8606a" stroke-width="0.8"/><rect x="681.8" y="242.2" width="2" height="1.6" fill="#e8606a"/><line x1="685.8" y1="241.3" x2="685.8" y2="251.6" stroke="#e8606a" stroke-width="0.8"/><rect x="684.8" y="243.8" width="2" height="7.0" fill="#e8606a"/><line x1="688.9" y1="249.1" x2="688.9" y2="259.9" stroke="#e8606a" stroke-width="0.8"/><rect x="687.9" y="250.0" width="2" height="9.0" fill="#e8606a"/><line x1="691.9" y1="257.4" x2="691.9" y2="269.0" stroke="#e8606a" stroke-width="0.8"/><rect x="690.9" y="258.2" width="2" height="5.8" fill="#e8606a"/><line x1="694.7" y1="257.4" x2="694.7" y2="286.4" stroke="#e8606a" stroke-width="0.8"/><rect x="693.7" y="259.9" width="2" height="25.7" fill="#e8606a"/><line x1="697.7" y1="278.0" x2="697.7" y2="297.2" stroke="#e8606a" stroke-width="0.8"/><rect x="696.7" y="285.6" width="2" height="7.4" fill="#e8606a"/><line x1="700.8" y1="289.7" x2="700.8" y2="293.0" stroke="#1f9c8a" stroke-width="0.8"/><rect x="699.8" y="290.5" width="2" height="1.7" fill="#1f9c8a"/><line x1="703.8" y1="284.7" x2="703.8" y2="295.5" stroke="#1f9c8a" stroke-width="0.8"/><rect x="702.8" y="285.6" width="2" height="9.1" fill="#1f9c8a"/><line x1="706.8" y1="283.9" x2="706.8" y2="288.0" stroke="#e8606a" stroke-width="0.8"/><rect x="705.8" y="284.7" width="2" height="2.5" fill="#e8606a"/><line x1="710.0" y1="278.1" x2="710.0" y2="287.2" stroke="#1f9c8a" stroke-width="0.8"/><rect x="709.0" y="280.6" width="2" height="5.8" fill="#1f9c8a"/><line x1="712.9" y1="278.9" x2="712.9" y2="289.7" stroke="#e8606a" stroke-width="0.8"/><rect x="711.9" y="281.4" width="2" height="7.5" fill="#e8606a"/><line x1="715.9" y1="268.2" x2="715.9" y2="321.2" stroke="#1f9c8a" stroke-width="0.8"/><rect x="714.9" y="275.6" width="2" height="10.0" fill="#1f9c8a"/><line x1="719.0" y1="263.2" x2="719.0" y2="286.4" stroke="#1f9c8a" stroke-width="0.8"/><rect x="718.0" y="267.3" width="2" height="9.2" fill="#1f9c8a"/><line x1="721.5" y1="260.7" x2="721.5" y2="273.1" stroke="#1f9c8a" stroke-width="0.8"/><rect x="720.5" y="264.9" width="2" height="7.4" fill="#1f9c8a"/><line x1="724.5" y1="246.6" x2="724.5" y2="269.0" stroke="#1f9c8a" stroke-width="0.8"/><rect x="723.5" y="252.4" width="2" height="15.8" fill="#1f9c8a"/><line x1="727.5" y1="251.6" x2="727.5" y2="278.0" stroke="#e8606a" stroke-width="0.8"/><rect x="726.5" y="252.4" width="2" height="22.4" fill="#e8606a"/><line x1="730.3" y1="226.4" x2="730.3" y2="274.8" stroke="#1f9c8a" stroke-width="0.8"/><rect x="729.3" y="238.0" width="2" height="36.0" fill="#1f9c8a"/><line x1="733.3" y1="233.9" x2="733.3" y2="245.5" stroke="#e8606a" stroke-width="0.8"/><rect x="732.3" y="236.3" width="2" height="7.5" fill="#e8606a"/><line x1="736.2" y1="238.8" x2="736.2" y2="244.6" stroke="#1f9c8a" stroke-width="0.8"/><rect x="735.2" y="240.5" width="2" height="3.3" fill="#1f9c8a"/><line x1="739.4" y1="235.5" x2="739.4" y2="244.6" stroke="#1f9c8a" stroke-width="0.8"/><rect x="738.4" y="238.0" width="2" height="5.8" fill="#1f9c8a"/><line x1="742.4" y1="229.7" x2="742.4" y2="248.0" stroke="#1f9c8a" stroke-width="0.8"/><rect x="741.4" y="231.4" width="2" height="9.1" fill="#1f9c8a"/><line x1="745.4" y1="223.9" x2="745.4" y2="234.7" stroke="#1f9c8a" stroke-width="0.8"/><rect x="744.4" y="228.9" width="2" height="5.0" fill="#1f9c8a"/><line x1="748.5" y1="211.5" x2="748.5" y2="233.0" stroke="#1f9c8a" stroke-width="0.8"/><rect x="747.5" y="224.7" width="2" height="6.7" fill="#1f9c8a"/><line x1="751.5" y1="219.8" x2="751.5" y2="228.9" stroke="#1f9c8a" stroke-width="0.8"/><rect x="750.5" y="220.6" width="2" height="7.4" fill="#1f9c8a"/><line x1="754.5" y1="219.8" x2="754.5" y2="224.7" stroke="#1f9c8a" stroke-width="0.8"/><rect x="753.5" y="220.6" width="2" height="3.3" fill="#1f9c8a"/><line x1="757.3" y1="211.5" x2="757.3" y2="223.1" stroke="#1f9c8a" stroke-width="0.8"/><rect x="756.3" y="215.6" width="2" height="6.7" fill="#1f9c8a"/><line x1="760.3" y1="210.7" x2="760.3" y2="217.3" stroke="#1f9c8a" stroke-width="0.8"/><rect x="759.3" y="211.5" width="2" height="5.0" fill="#1f9c8a"/><line x1="763.4" y1="212.3" x2="763.4" y2="230.5" stroke="#e8606a" stroke-width="0.8"/><rect x="762.4" y="213.1" width="2" height="16.6" fill="#e8606a"/><line x1="766.4" y1="228.9" x2="766.4" y2="240.5" stroke="#e8606a" stroke-width="0.8"/><rect x="765.4" y="229.7" width="2" height="10.0" fill="#e8606a"/><line x1="769.4" y1="228.9" x2="769.4" y2="241.3" stroke="#e8606a" stroke-width="0.8"/><rect x="768.4" y="234.7" width="2" height="5.8" fill="#e8606a"/><line x1="772.2" y1="238.8" x2="772.2" y2="247.9" stroke="#e8606a" stroke-width="0.8"/><rect x="771.2" y="239.7" width="2" height="7.4" fill="#e8606a"/><line x1="775.2" y1="244.6" x2="775.2" y2="247.9" stroke="#e8606a" stroke-width="0.8"/><rect x="774.2" y="245.4" width="2" height="1.7" fill="#e8606a"/><line x1="777.7" y1="242.1" x2="777.7" y2="252.9" stroke="#1f9c8a" stroke-width="0.8"/><rect x="776.7" y="243.0" width="2" height="3.3" fill="#1f9c8a"/><line x1="780.8" y1="239.7" x2="780.8" y2="246.3" stroke="#1f9c8a" stroke-width="0.8"/><rect x="779.8" y="243.0" width="2" height="2.4" fill="#1f9c8a"/><line x1="783.8" y1="236.3" x2="783.8" y2="251.3" stroke="#e8606a" stroke-width="0.8"/><rect x="782.8" y="242.1" width="2" height="5.9" fill="#e8606a"/><line x1="786.6" y1="238.0" x2="786.6" y2="247.9" stroke="#1f9c8a" stroke-width="0.8"/><rect x="785.6" y="243.8" width="2" height="2.5" fill="#1f9c8a"/><line x1="789.6" y1="239.7" x2="789.6" y2="251.3" stroke="#e8606a" stroke-width="0.8"/><rect x="788.6" y="244.6" width="2" height="5.0" fill="#e8606a"/><line x1="792.6" y1="247.9" x2="792.6" y2="253.7" stroke="#e8606a" stroke-width="0.8"/><rect x="791.6" y="248.8" width="2" height="4.1" fill="#e8606a"/><line x1="795.7" y1="242.1" x2="795.7" y2="252.1" stroke="#1f9c8a" stroke-width="0.8"/><rect x="794.7" y="243.8" width="2" height="7.5" fill="#1f9c8a"/><line x1="798.7" y1="235.5" x2="798.7" y2="244.6" stroke="#1f9c8a" stroke-width="0.8"/><rect x="797.7" y="236.3" width="2" height="7.5" fill="#1f9c8a"/><line x1="801.7" y1="218.1" x2="801.7" y2="238.0" stroke="#1f9c8a" stroke-width="0.8"/><rect x="800.7" y="218.9" width="2" height="18.3" fill="#1f9c8a"/><line x1="804.9" y1="204.9" x2="804.9" y2="219.8" stroke="#1f9c8a" stroke-width="0.8"/><rect x="803.9" y="211.5" width="2" height="7.4" fill="#1f9c8a"/><line x1="807.8" y1="204.9" x2="807.8" y2="211.5" stroke="#1f9c8a" stroke-width="0.8"/><rect x="806.8" y="207.3" width="2" height="3.4" fill="#1f9c8a"/><line x1="810.8" y1="205.7" x2="810.8" y2="212.3" stroke="#e8606a" stroke-width="0.8"/><rect x="809.8" y="207.3" width="2" height="3.4" fill="#e8606a"/><line x1="813.8" y1="209.8" x2="813.8" y2="215.6" stroke="#e8606a" stroke-width="0.8"/><rect x="812.8" y="210.7" width="2" height="4.1" fill="#e8606a"/><line x1="817.0" y1="208.2" x2="817.0" y2="215.6" stroke="#1f9c8a" stroke-width="0.8"/><rect x="816.0" y="212.3" width="2" height="2.5" fill="#1f9c8a"/><line x1="819.8" y1="204.9" x2="819.8" y2="214.8" stroke="#1f9c8a" stroke-width="0.8"/><rect x="818.8" y="210.7" width="2" height="3.3" fill="#1f9c8a"/><line x1="822.4" y1="171.5" x2="822.4" y2="213.1" stroke="#1f9c8a" stroke-width="0.8"/><rect x="821.4" y="172.2" width="2" height="40.1" fill="#1f9c8a"/><line x1="825.2" y1="156.7" x2="825.2" y2="175.6" stroke="#1f9c8a" stroke-width="0.8"/><rect x="824.2" y="160.6" width="2" height="11.6" fill="#1f9c8a"/><line x1="828.0" y1="160.6" x2="828.0" y2="168.3" stroke="#e8606a" stroke-width="0.8"/><rect x="827.0" y="161.1" width="2" height="6.7" fill="#e8606a"/><line x1="830.9" y1="162.2" x2="830.9" y2="172.8" stroke="#e8606a" stroke-width="0.8"/><rect x="829.9" y="165.0" width="2" height="7.2" fill="#e8606a"/><line x1="833.9" y1="171.7" x2="833.9" y2="174.4" stroke="#e8606a" stroke-width="0.8"/><rect x="832.9" y="172.2" width="2" height="1.7" fill="#e8606a"/><line x1="837.0" y1="163.9" x2="837.0" y2="176.7" stroke="#1f9c8a" stroke-width="0.8"/><rect x="836.0" y="165.0" width="2" height="8.3" fill="#1f9c8a"/><line x1="840.0" y1="163.9" x2="840.0" y2="182.8" stroke="#e8606a" stroke-width="0.8"/><rect x="839.0" y="164.4" width="2" height="17.8" fill="#e8606a"/><line x1="842.8" y1="179.4" x2="842.8" y2="188.3" stroke="#e8606a" stroke-width="0.8"/><rect x="841.8" y="181.7" width="2" height="6.1" fill="#e8606a"/><line x1="845.9" y1="185.6" x2="845.9" y2="188.9" stroke="#1f9c8a" stroke-width="0.8"/><rect x="844.9" y="186.1" width="2" height="2.2" fill="#1f9c8a"/><line x1="848.9" y1="185.6" x2="848.9" y2="198.8" stroke="#e8606a" stroke-width="0.8"/><rect x="847.9" y="186.1" width="2" height="12.1" fill="#e8606a"/><line x1="852.3" y1="194.1" x2="852.3" y2="204.9" stroke="#e8606a" stroke-width="0.8"/><rect x="851.3" y="198.2" width="2" height="5.8" fill="#e8606a"/><line x1="855.1" y1="198.2" x2="855.1" y2="206.5" stroke="#e8606a" stroke-width="0.8"/><rect x="854.1" y="201.5" width="2" height="4.2" fill="#e8606a"/><line x1="857.9" y1="194.9" x2="857.9" y2="213.1" stroke="#e8606a" stroke-width="0.8"/><rect x="856.9" y="204.9" width="2" height="7.4" fill="#e8606a"/><line x1="861.2" y1="200.5" x2="861.2" y2="214.1" stroke="#1f9c8a" stroke-width="0.8"/><rect x="860.2" y="204.9" width="2" height="7.4" fill="#1f9c8a"/><line x1="6" y1="205.4" x2="869" y2="205.4" stroke="#9aa0a8" stroke-width="0.8" stroke-dasharray="1,1.2"/><line x1="6" y1="349" x2="906" y2="349" stroke="#e6e6e6" stroke-width="1"/><line x1="6" y1="360.3" x2="869" y2="360.3" stroke="#f1f2f6" stroke-width="1"/><line x1="6" y1="393.0" x2="869" y2="393.0" stroke="#f1f2f6" stroke-width="1"/><line x1="6" y1="425.6" x2="869" y2="425.6" stroke="#f1f2f6" stroke-width="1"/><line x1="6" y1="458.3" x2="869" y2="458.3" stroke="#f1f2f6" stroke-width="1"/><rect x="6" y="376.6" width="863" height="65.3" fill="#7e57c2" fill-opacity="0.1"/><line x1="6" y1="376.6" x2="869" y2="376.6" stroke="#868993" stroke-width="0.75" stroke-dasharray="3.6,3" stroke-dashoffset="1.4"/><line x1="6" y1="409.3" x2="869" y2="409.3" stroke="#868993" stroke-width="0.75" stroke-dasharray="3.6,3" stroke-dashoffset="1.4"/><line x1="6" y1="442.0" x2="869" y2="442.0" stroke="#868993" stroke-width="0.75" stroke-dasharray="3.6,3" stroke-dashoffset="1.4"/><defs><clipPath id="ob"><rect x="0" y="340" width="912" height="36.6"/></clipPath><clipPath id="os"><rect x="0" y="442.0" width="912" height="40"/></clipPath><linearGradient id="gob" gradientUnits="userSpaceOnUse" x1="0" y1="327.6" x2="0" y2="376.6"><stop offset="0" stop-color="#4caf50" stop-opacity="0.9"/><stop offset="1" stop-color="#4caf50" stop-opacity="0"/></linearGradient><linearGradient id="gos" gradientUnits="userSpaceOnUse" x1="0" y1="442.0" x2="0" y2="491.0"><stop offset="0" stop-color="#f23645" stop-opacity="0"/><stop offset="1" stop-color="#f23645" stop-opacity="0.9"/></linearGradient></defs><polygon clip-path="url(#ob)" points="6.6,376.6 6.6,415.5 9.1,404.7 11.6,402.3 13.3,403.9 15.7,408.9 18.2,407.2 19.9,408.9 21.9,415.2 24.9,408.9 26.9,387.3 29.0,384.9 30.7,383.2 32.3,372.4 34.0,370.8 37.3,369.9 39.8,370.8 41.4,374.1 44.8,365.0 46.4,371.6 48.1,379.1 50.6,372.4 53.0,380.7 56.4,381.5 59.7,387.3 62.2,388.2 66.3,383.2 69.6,368.3 72.9,364.1 75.4,364.1 77.9,372.4 80.7,380.7 82.9,375.7 86.2,375.7 89.5,372.4 92.8,370.8 95.3,369.9 97.8,375.7 99.5,374.9 101.4,373.3 104.4,417.2 106.9,412.2 110.2,422.1 112.7,417.2 116.0,418.8 119.3,415.5 122.7,420.5 130.9,418.8 135.1,415.5 139.2,411.4 142.5,416.3 145.9,417.2 148.3,418.0 152.5,416.3 155.8,419.7 159.9,428.8 164.1,437.9 167.4,437.1 169.9,433.7 172.3,439.5 174.8,434.6 178.2,420.5 181.1,420.5 184.0,432.1 188.1,427.1 193.1,418.8 198.0,423.0 202.2,418.8 204.7,419.7 208.0,427.1 211.3,421.3 214.6,404.7 217.1,402.3 220.4,403.9 223.7,403.9 226.2,405.6 228.7,401.4 231.2,402.3 232.9,409.7 235.3,421.3 239.5,426.3 244.5,427.9 247.8,432.9 251.9,442.0 253.6,441.2 255.7,431.3 258.5,432.9 261.0,434.6 264.3,427.9 266.8,429.6 268.5,427.9 272.6,401.4 275.9,403.9 280.9,413.0 287.5,426.3 290.9,421.3 293.3,420.5 296.6,418.8 299.9,421.3 303.3,409.7 305.7,408.1 309.1,399.8 311.5,399.8 314.9,401.4 318.2,397.3 320.7,404.7 324.0,413.9 329.8,396.5 332.3,394.0 335.6,389.0 338.9,395.6 341.4,400.6 344.7,409.4 347.2,404.7 351.3,403.1 353.8,399.8 357.1,393.1 359.6,400.6 362.9,387.3 366.2,384.9 369.6,384.0 372.1,381.5 374.2,377.4 376.2,379.9 377.8,386.5 379.5,432.1 382.8,432.9 386.1,432.1 388.6,422.1 391.9,423.8 396.1,423.0 398.6,421.3 403.5,397.3 406.9,397.3 410.2,403.9 412.7,398.9 416.0,405.6 419.3,409.7 422.6,408.9 424.3,408.9 427.6,403.1 430.9,399.8 433.4,387.3 436.7,395.6 439.1,411.4 442.5,414.7 445.8,418.0 448.3,414.7 451.6,423.0 454.1,422.1 457.4,427.1 460.7,422.1 464.0,417.2 468.2,416.3 471.8,427.9 474.8,425.5 478.1,420.5 481.4,423.0 484.7,427.9 487.2,433.7 489.7,423.0 492.2,422.1 495.5,423.8 498.8,421.3 501.3,415.5 504.6,414.7 507.6,386.5 510.4,397.3 513.7,390.7 516.2,394.8 519.5,389.8 522.8,394.0 525.8,398.9 528.7,405.6 532.8,406.7 536.1,404.7 539.4,402.3 543.6,400.6 546.4,393.1 549.4,397.3 552.7,403.1 555.2,409.7 558.5,412.2 561.8,421.3 564.3,435.4 566.8,426.3 570.1,425.5 573.4,418.8 576.7,421.3 580.0,428.8 584.1,429.6 587.5,436.2 590.8,436.6 594.1,438.7 598.2,439.2 600.2,437.9 602.4,422.1 605.2,408.1 609.0,409.7 611.5,408.1 614.8,403.4 618.1,408.1 620.6,418.0 623.1,408.9 627.2,406.4 631.4,401.4 634.7,395.6 636.4,403.1 637.7,418.8 640.5,423.0 643.8,424.3 647.1,416.3 649.6,419.7 652.9,415.5 656.2,412.7 659.2,418.8 662.0,415.5 664.1,412.3 668.3,415.6 670.8,420.6 673.2,430.5 676.6,426.4 681.5,428.9 686.5,437.2 691.5,443.0 693.9,449.6 697.3,455.9 700.6,452.9 703.9,447.9 706.7,447.1 710.5,439.7 714.6,429.7 718.3,418.9 721.6,418.9 724.2,404.9 727.1,421.4 730.2,397.3 733.5,400.2 736.8,399.0 741.3,394.9 745.5,391.6 749.6,389.1 753.0,387.4 756.7,383.6 759.6,381.8 762.3,398.1 765.6,407.2 768.9,408.9 772.2,413.8 776.4,413.0 780.5,411.0 783.8,412.2 787.2,412.2 789.6,417.1 792.1,420.5 795.4,408.9 798.8,398.9 802.1,385.7 807.0,379.9 810.4,382.3 813.7,388.1 817.0,387.3 819.5,386.5 820.8,371.6 822.0,366.6 824.5,361.3 826.1,363.3 828.6,369.9 831.9,374.9 834.4,375.7 836.9,372.4 838.5,379.0 840.2,389.8 842.7,393.9 846.0,394.8 849.3,403.9 852.6,408.9 855.1,409.7 857.6,415.5 859.3,412.2 860.9,410.2 860.9,376.6" fill="url(#gob)"/><polygon clip-path="url(#os)" points="6.6,442.0 6.6,415.5 9.1,404.7 11.6,402.3 13.3,403.9 15.7,408.9 18.2,407.2 19.9,408.9 21.9,415.2 24.9,408.9 26.9,387.3 29.0,384.9 30.7,383.2 32.3,372.4 34.0,370.8 37.3,369.9 39.8,370.8 41.4,374.1 44.8,365.0 46.4,371.6 48.1,379.1 50.6,372.4 53.0,380.7 56.4,381.5 59.7,387.3 62.2,388.2 66.3,383.2 69.6,368.3 72.9,364.1 75.4,364.1 77.9,372.4 80.7,380.7 82.9,375.7 86.2,375.7 89.5,372.4 92.8,370.8 95.3,369.9 97.8,375.7 99.5,374.9 101.4,373.3 104.4,417.2 106.9,412.2 110.2,422.1 112.7,417.2 116.0,418.8 119.3,415.5 122.7,420.5 130.9,418.8 135.1,415.5 139.2,411.4 142.5,416.3 145.9,417.2 148.3,418.0 152.5,416.3 155.8,419.7 159.9,428.8 164.1,437.9 167.4,437.1 169.9,433.7 172.3,439.5 174.8,434.6 178.2,420.5 181.1,420.5 184.0,432.1 188.1,427.1 193.1,418.8 198.0,423.0 202.2,418.8 204.7,419.7 208.0,427.1 211.3,421.3 214.6,404.7 217.1,402.3 220.4,403.9 223.7,403.9 226.2,405.6 228.7,401.4 231.2,402.3 232.9,409.7 235.3,421.3 239.5,426.3 244.5,427.9 247.8,432.9 251.9,442.0 253.6,441.2 255.7,431.3 258.5,432.9 261.0,434.6 264.3,427.9 266.8,429.6 268.5,427.9 272.6,401.4 275.9,403.9 280.9,413.0 287.5,426.3 290.9,421.3 293.3,420.5 296.6,418.8 299.9,421.3 303.3,409.7 305.7,408.1 309.1,399.8 311.5,399.8 314.9,401.4 318.2,397.3 320.7,404.7 324.0,413.9 329.8,396.5 332.3,394.0 335.6,389.0 338.9,395.6 341.4,400.6 344.7,409.4 347.2,404.7 351.3,403.1 353.8,399.8 357.1,393.1 359.6,400.6 362.9,387.3 366.2,384.9 369.6,384.0 372.1,381.5 374.2,377.4 376.2,379.9 377.8,386.5 379.5,432.1 382.8,432.9 386.1,432.1 388.6,422.1 391.9,423.8 396.1,423.0 398.6,421.3 403.5,397.3 406.9,397.3 410.2,403.9 412.7,398.9 416.0,405.6 419.3,409.7 422.6,408.9 424.3,408.9 427.6,403.1 430.9,399.8 433.4,387.3 436.7,395.6 439.1,411.4 442.5,414.7 445.8,418.0 448.3,414.7 451.6,423.0 454.1,422.1 457.4,427.1 460.7,422.1 464.0,417.2 468.2,416.3 471.8,427.9 474.8,425.5 478.1,420.5 481.4,423.0 484.7,427.9 487.2,433.7 489.7,423.0 492.2,422.1 495.5,423.8 498.8,421.3 501.3,415.5 504.6,414.7 507.6,386.5 510.4,397.3 513.7,390.7 516.2,394.8 519.5,389.8 522.8,394.0 525.8,398.9 528.7,405.6 532.8,406.7 536.1,404.7 539.4,402.3 543.6,400.6 546.4,393.1 549.4,397.3 552.7,403.1 555.2,409.7 558.5,412.2 561.8,421.3 564.3,435.4 566.8,426.3 570.1,425.5 573.4,418.8 576.7,421.3 580.0,428.8 584.1,429.6 587.5,436.2 590.8,436.6 594.1,438.7 598.2,439.2 600.2,437.9 602.4,422.1 605.2,408.1 609.0,409.7 611.5,408.1 614.8,403.4 618.1,408.1 620.6,418.0 623.1,408.9 627.2,406.4 631.4,401.4 634.7,395.6 636.4,403.1 637.7,418.8 640.5,423.0 643.8,424.3 647.1,416.3 649.6,419.7 652.9,415.5 656.2,412.7 659.2,418.8 662.0,415.5 664.1,412.3 668.3,415.6 670.8,420.6 673.2,430.5 676.6,426.4 681.5,428.9 686.5,437.2 691.5,443.0 693.9,449.6 697.3,455.9 700.6,452.9 703.9,447.9 706.7,447.1 710.5,439.7 714.6,429.7 718.3,418.9 721.6,418.9 724.2,404.9 727.1,421.4 730.2,397.3 733.5,400.2 736.8,399.0 741.3,394.9 745.5,391.6 749.6,389.1 753.0,387.4 756.7,383.6 759.6,381.8 762.3,398.1 765.6,407.2 768.9,408.9 772.2,413.8 776.4,413.0 780.5,411.0 783.8,412.2 787.2,412.2 789.6,417.1 792.1,420.5 795.4,408.9 798.8,398.9 802.1,385.7 807.0,379.9 810.4,382.3 813.7,388.1 817.0,387.3 819.5,386.5 820.8,371.6 822.0,366.6 824.5,361.3 826.1,363.3 828.6,369.9 831.9,374.9 834.4,375.7 836.9,372.4 838.5,379.0 840.2,389.8 842.7,393.9 846.0,394.8 849.3,403.9 852.6,408.9 855.1,409.7 857.6,415.5 859.3,412.2 860.9,410.2 860.9,442.0" fill="url(#gos)"/><polyline points="6.6,432.9 16.6,425.5 24.9,417.2 33.2,404.7 41.4,393.1 49.7,386.5 58.0,381.5 66.3,378.2 74.6,375.7 82.9,375.2 91.2,375.2 102.8,375.2 112.7,383.2 122.7,393.1 132.6,404.7 140.9,413.9 150.0,417.2 161.6,419.7 169.9,423.0 178.2,426.3 186.4,427.9 194.7,428.8 203.0,427.9 211.3,424.6 219.6,420.5 227.9,415.5 232.9,412.7 237.8,412.7 244.5,413.9 252.7,418.0 261.0,423.0 267.7,426.3 272.6,427.1 277.6,426.3 285.9,423.8 295.0,420.5 298.3,418.0 306.6,413.9 314.9,412.7 323.2,412.2 331.4,408.1 339.7,402.3 348.0,400.6 356.3,399.8 364.6,396.5 374.5,394.0 381.2,397.3 389.5,401.4 397.7,405.6 406.0,408.9 414.3,412.2 419.3,414.7 425.9,411.4 432.5,407.2 437.5,403.1 443.3,404.7 451.6,408.1 459.9,410.5 468.2,413.0 476.4,418.0 484.7,422.1 493.0,423.0 501.3,422.1 509.6,418.0 517.9,412.2 526.2,407.2 534.5,403.1 542.7,398.9 547.7,398.1 554.3,399.8 562.6,404.7 570.9,409.7 579.2,414.7 588.3,420.5 596.6,427.1 601.5,430.4 608.2,427.1 616.5,423.8 624.8,420.5 631.4,414.7 636.4,410.5 643.0,409.4 651.3,410.5 659.6,412.2 667.9,413.5 676.6,418.9 686.5,421.4 696.4,429.7 704.7,437.2 711.3,441.0 716.3,441.3 726.2,436.3 734.5,428.3 742.8,417.6 751.1,405.9 758.2,397.3 764.8,394.8 774.7,397.3 784.7,402.2 794.6,408.0 799.6,408.9 807.9,405.5 816.2,399.7 824.5,391.5 832.7,382.3 839.4,377.4 846.0,379.0 854.3,383.2 860.9,388.1" fill="none" stroke="#f3e8ae" stroke-width="1.6"/><polyline points="6.6,415.5 9.1,404.7 11.6,402.3 13.3,403.9 15.7,408.9 18.2,407.2 19.9,408.9 21.9,415.2 24.9,408.9 26.9,387.3 29.0,384.9 30.7,383.2 32.3,372.4 34.0,370.8 37.3,369.9 39.8,370.8 41.4,374.1 44.8,365.0 46.4,371.6 48.1,379.1 50.6,372.4 53.0,380.7 56.4,381.5 59.7,387.3 62.2,388.2 66.3,383.2 69.6,368.3 72.9,364.1 75.4,364.1 77.9,372.4 80.7,380.7 82.9,375.7 86.2,375.7 89.5,372.4 92.8,370.8 95.3,369.9 97.8,375.7 99.5,374.9 101.4,373.3 104.4,417.2 106.9,412.2 110.2,422.1 112.7,417.2 116.0,418.8 119.3,415.5 122.7,420.5 130.9,418.8 135.1,415.5 139.2,411.4 142.5,416.3 145.9,417.2 148.3,418.0 152.5,416.3 155.8,419.7 159.9,428.8 164.1,437.9 167.4,437.1 169.9,433.7 172.3,439.5 174.8,434.6 178.2,420.5 181.1,420.5 184.0,432.1 188.1,427.1 193.1,418.8 198.0,423.0 202.2,418.8 204.7,419.7 208.0,427.1 211.3,421.3 214.6,404.7 217.1,402.3 220.4,403.9 223.7,403.9 226.2,405.6 228.7,401.4 231.2,402.3 232.9,409.7 235.3,421.3 239.5,426.3 244.5,427.9 247.8,432.9 251.9,442.0 253.6,441.2 255.7,431.3 258.5,432.9 261.0,434.6 264.3,427.9 266.8,429.6 268.5,427.9 272.6,401.4 275.9,403.9 280.9,413.0 287.5,426.3 290.9,421.3 293.3,420.5 296.6,418.8 299.9,421.3 303.3,409.7 305.7,408.1 309.1,399.8 311.5,399.8 314.9,401.4 318.2,397.3 320.7,404.7 324.0,413.9 329.8,396.5 332.3,394.0 335.6,389.0 338.9,395.6 341.4,400.6 344.7,409.4 347.2,404.7 351.3,403.1 353.8,399.8 357.1,393.1 359.6,400.6 362.9,387.3 366.2,384.9 369.6,384.0 372.1,381.5 374.2,377.4 376.2,379.9 377.8,386.5 379.5,432.1 382.8,432.9 386.1,432.1 388.6,422.1 391.9,423.8 396.1,423.0 398.6,421.3 403.5,397.3 406.9,397.3 410.2,403.9 412.7,398.9 416.0,405.6 419.3,409.7 422.6,408.9 424.3,408.9 427.6,403.1 430.9,399.8 433.4,387.3 436.7,395.6 439.1,411.4 442.5,414.7 445.8,418.0 448.3,414.7 451.6,423.0 454.1,422.1 457.4,427.1 460.7,422.1 464.0,417.2 468.2,416.3 471.8,427.9 474.8,425.5 478.1,420.5 481.4,423.0 484.7,427.9 487.2,433.7 489.7,423.0 492.2,422.1 495.5,423.8 498.8,421.3 501.3,415.5 504.6,414.7 507.6,386.5 510.4,397.3 513.7,390.7 516.2,394.8 519.5,389.8 522.8,394.0 525.8,398.9 528.7,405.6 532.8,406.7 536.1,404.7 539.4,402.3 543.6,400.6 546.4,393.1 549.4,397.3 552.7,403.1 555.2,409.7 558.5,412.2 561.8,421.3 564.3,435.4 566.8,426.3 570.1,425.5 573.4,418.8 576.7,421.3 580.0,428.8 584.1,429.6 587.5,436.2 590.8,436.6 594.1,438.7 598.2,439.2 600.2,437.9 602.4,422.1 605.2,408.1 609.0,409.7 611.5,408.1 614.8,403.4 618.1,408.1 620.6,418.0 623.1,408.9 627.2,406.4 631.4,401.4 634.7,395.6 636.4,403.1 637.7,418.8 640.5,423.0 643.8,424.3 647.1,416.3 649.6,419.7 652.9,415.5 656.2,412.7 659.2,418.8 662.0,415.5 664.1,412.3 668.3,415.6 670.8,420.6 673.2,430.5 676.6,426.4 681.5,428.9 686.5,437.2 691.5,443.0 693.9,449.6 697.3,455.9 700.6,452.9 703.9,447.9 706.7,447.1 710.5,439.7 714.6,429.7 718.3,418.9 721.6,418.9 724.2,404.9 727.1,421.4 730.2,397.3 733.5,400.2 736.8,399.0 741.3,394.9 745.5,391.6 749.6,389.1 753.0,387.4 756.7,383.6 759.6,381.8 762.3,398.1 765.6,407.2 768.9,408.9 772.2,413.8 776.4,413.0 780.5,411.0 783.8,412.2 787.2,412.2 789.6,417.1 792.1,420.5 795.4,408.9 798.8,398.9 802.1,385.7 807.0,379.9 810.4,382.3 813.7,388.1 817.0,387.3 819.5,386.5 820.8,371.6 822.0,366.6 824.5,361.3 826.1,363.3 828.6,369.9 831.9,374.9 834.4,375.7 836.9,372.4 838.5,379.0 840.2,389.8 842.7,393.9 846.0,394.8 849.3,403.9 852.6,408.9 855.1,409.7 857.6,415.5 859.3,412.2 860.9,410.2" fill="none" stroke="#8473cc" stroke-width="1.05"/><line x1="869" y1="9.5" x2="869" y2="483" stroke="#b6b9c0" stroke-width="1.1"/><line x1="6" y1="466.4" x2="906" y2="466.4" stroke="#9598a1" stroke-width="0.9"/><text transform="translate(874.30,61.40) scale(0.8475,1)" font-family="&quot;Liberation Sans&quot;, sans-serif" font-size="8.26" fill="#50535e" text-anchor="start" font-weight="normal" dominant-baseline="central" text-rendering="geometricPrecision" stroke="#50535e" stroke-width="0.12">100.000</text><text transform="translate(874.30,95.70) scale(0.8475,1)" font-family="&quot;Liberation Sans&quot;, sans-serif" font-size="8.26" fill="#50535e" text-anchor="start" font-weight="normal" dominant-baseline="central" text-rendering="geometricPrecision" stroke="#50535e" stroke-width="0.12">99.500</text><text transform="translate(874.30,164.30) scale(0.8475,1)" font-family="&quot;Liberation Sans&quot;, sans-serif" font-size="8.26" fill="#50535e" text-anchor="start" font-weight="normal" dominant-baseline="central" text-rendering="geometricPrecision" stroke="#50535e" stroke-width="0.12">98.500</text><text transform="translate(874.30,232.90) scale(0.8475,1)" font-family="&quot;Liberation Sans&quot;, sans-serif" font-size="8.26" fill="#50535e" text-anchor="start" font-weight="normal" dominant-baseline="central" text-rendering="geometricPrecision" stroke="#50535e" stroke-width="0.12">97.500</text><text transform="translate(874.30,267.20) scale(0.8475,1)" font-family="&quot;Liberation Sans&quot;, sans-serif" font-size="8.26" fill="#50535e" text-anchor="start" font-weight="normal" dominant-baseline="central" text-rendering="geometricPrecision" stroke="#50535e" stroke-width="0.12">97.000</text><text transform="translate(874.30,301.50) scale(0.8475,1)" font-family="&quot;Liberation Sans&quot;, sans-serif" font-size="8.26" fill="#50535e" text-anchor="start" font-weight="normal" dominant-baseline="central" text-rendering="geometricPrecision" stroke="#50535e" stroke-width="0.12">96.500</text><text transform="translate(874.30,335.80) scale(0.8475,1)" font-family="&quot;Liberation Sans&quot;, sans-serif" font-size="8.26" fill="#50535e" text-anchor="start" font-weight="normal" dominant-baseline="central" text-rendering="geometricPrecision" stroke="#50535e" stroke-width="0.12">96.000</text><text transform="translate(874.30,360.71) scale(0.8475,1)" font-family="&quot;Liberation Sans&quot;, sans-serif" font-size="8.26" fill="#50535e" text-anchor="start" font-weight="normal" dominant-baseline="central" text-rendering="geometricPrecision" stroke="#50535e" stroke-width="0.12">80.00</text><text transform="translate(874.30,393.37) scale(0.8475,1)" font-family="&quot;Liberation Sans&quot;, sans-serif" font-size="8.26" fill="#50535e" text-anchor="start" font-weight="normal" dominant-baseline="central" text-rendering="geometricPrecision" stroke="#50535e" stroke-width="0.12">60.00</text><text transform="translate(874.30,426.03) scale(0.8475,1)" font-family="&quot;Liberation Sans&quot;, sans-serif" font-size="8.26" fill="#50535e" text-anchor="start" font-weight="normal" dominant-baseline="central" text-rendering="geometricPrecision" stroke="#50535e" stroke-width="0.12">40.00</text><text transform="translate(874.30,458.69) scale(0.8475,1)" font-family="&quot;Liberation Sans&quot;, sans-serif" font-size="8.26" fill="#50535e" text-anchor="start" font-weight="normal" dominant-baseline="central" text-rendering="geometricPrecision" stroke="#50535e" stroke-width="0.12">20.00</text><rect x="869.4" y="125" width="29.1" height="10" fill="#ea6a74"/><rect x="869.4" y="135.6" width="29.1" height="10" fill="#ea6a74"/><text transform="translate(874.30,130.50) scale(0.8475,1)" font-family="&quot;Liberation Sans&quot;, sans-serif" font-size="8.26" fill="#fff" text-anchor="start" font-weight="normal" dominant-baseline="central" text-rendering="geometricPrecision" stroke="#fff" stroke-width="0.25">99.009</text><text transform="translate(874.30,141.00) scale(0.8475,1)" font-family="&quot;Liberation Sans&quot;, sans-serif" font-size="8.26" fill="#fff" text-anchor="start" font-weight="normal" dominant-baseline="central" text-rendering="geometricPrecision" stroke="#fff" stroke-width="0.25">98.851</text><rect x="869.4" y="180" width="29.1" height="20" fill="#ea6a74"/><text transform="translate(874.30,185.80) scale(0.8475,1)" font-family="&quot;Liberation Sans&quot;, sans-serif" font-size="8.26" fill="#fff" text-anchor="start" font-weight="normal" dominant-baseline="central" text-rendering="geometricPrecision" stroke="#fff" stroke-width="0.25">98.195</text><text transform="translate(874.30,195.40) scale(0.8475,1)" font-family="&quot;Liberation Sans&quot;, sans-serif" font-size="8.26" fill="#fff" text-anchor="start" font-weight="normal" dominant-baseline="central" text-rendering="geometricPrecision" stroke="#fff" stroke-width="0.25">98.006</text><rect x="869.4" y="200" width="29.1" height="18.5" fill="#22a595"/><text transform="translate(874.30,206.10) scale(0.8475,1)" font-family="&quot;Liberation Sans&quot;, sans-serif" font-size="8.26" fill="#fff" text-anchor="start" font-weight="normal" dominant-baseline="central" text-rendering="geometricPrecision" stroke="#fff" stroke-width="0.25">97.908</text><text transform="translate(874.30,214.40) scale(0.8475,1)" font-family="&quot;Liberation Sans&quot;, sans-serif" font-size="8.26" fill="#fff" text-anchor="start" font-weight="normal" dominant-baseline="central" text-rendering="geometricPrecision" stroke="#fff" stroke-width="0.25">35:15</text><rect x="869.4" y="242.5" width="29.1" height="9.8" rx="1" fill="#7dc888"/><rect x="869.4" y="255.4" width="29.1" height="9.3" rx="1" fill="#7dc888"/><text transform="translate(874.30,247.60) scale(0.8475,1)" font-family="&quot;Liberation Sans&quot;, sans-serif" font-size="8.26" fill="#131722" text-anchor="start" font-weight="normal" dominant-baseline="central" text-rendering="geometricPrecision" stroke="#131722" stroke-width="0.15">97.292</text><text transform="translate(874.30,260.20) scale(0.8475,1)" font-family="&quot;Liberation Sans&quot;, sans-serif" font-size="8.26" fill="#131722" text-anchor="start" font-weight="normal" dominant-baseline="central" text-rendering="geometricPrecision" stroke="#131722" stroke-width="0.15">97.107</text><rect x="871.8" y="12.3" width="31.8" height="15.6" rx="1.5" fill="#fff" stroke="#ececec" stroke-width="0.8"/><text transform="translate(876.50,20.60) scale(0.7692,1)" font-family="&quot;Liberation Sans&quot;, sans-serif" font-size="7.80" fill="#131722" text-anchor="start" font-weight="normal" dominant-baseline="central" text-rendering="geometricPrecision" stroke="#131722" stroke-width="0.2">USD</text><text transform="translate(9.30,474.50) scale(0.9434,1)" font-family="&quot;Liberation Sans&quot;, sans-serif" font-size="7.42" fill="#50535e" text-anchor="middle" font-weight="normal" dominant-baseline="central" text-rendering="geometricPrecision" >25</text><text transform="translate(48.30,474.50) scale(0.9434,1)" font-family="&quot;Liberation Sans&quot;, sans-serif" font-size="7.42" fill="#50535e" text-anchor="middle" font-weight="normal" dominant-baseline="central" text-rendering="geometricPrecision" >29</text><text transform="translate(101.70,474.50) scale(0.9434,1)" font-family="&quot;Liberation Sans&quot;, sans-serif" font-size="7.42" fill="#50535e" text-anchor="middle" font-weight="normal" dominant-baseline="central" text-rendering="geometricPrecision" >Aug</text><text transform="translate(140.00,474.50) scale(0.9434,1)" font-family="&quot;Liberation Sans&quot;, sans-serif" font-size="7.42" fill="#50535e" text-anchor="middle" font-weight="normal" dominant-baseline="central" text-rendering="geometricPrecision" >5</text><text transform="translate(175.70,474.50) scale(0.9434,1)" font-family="&quot;Liberation Sans&quot;, sans-serif" font-size="7.42" fill="#50535e" text-anchor="middle" font-weight="normal" dominant-baseline="central" text-rendering="geometricPrecision" >7</text><text transform="translate(210.70,474.50) scale(0.9434,1)" font-family="&quot;Liberation Sans&quot;, sans-serif" font-size="7.42" fill="#50535e" text-anchor="middle" font-weight="normal" dominant-baseline="central" text-rendering="geometricPrecision" >11</text><text transform="translate(249.30,474.50) scale(0.9434,1)" font-family="&quot;Liberation Sans&quot;, sans-serif" font-size="7.42" fill="#50535e" text-anchor="middle" font-weight="normal" dominant-baseline="central" text-rendering="geometricPrecision" >13</text><text transform="translate(285.30,474.50) scale(0.9434,1)" font-family="&quot;Liberation Sans&quot;, sans-serif" font-size="7.42" fill="#50535e" text-anchor="middle" font-weight="normal" dominant-baseline="central" text-rendering="geometricPrecision" >15</text><text transform="translate(324.00,474.50) scale(0.9434,1)" font-family="&quot;Liberation Sans&quot;, sans-serif" font-size="7.42" fill="#50535e" text-anchor="middle" font-weight="normal" dominant-baseline="central" text-rendering="geometricPrecision" >19</text><text transform="translate(359.00,474.50) scale(0.9434,1)" font-family="&quot;Liberation Sans&quot;, sans-serif" font-size="7.42" fill="#50535e" text-anchor="middle" font-weight="normal" dominant-baseline="central" text-rendering="geometricPrecision" >21</text><text transform="translate(395.00,474.50) scale(0.9434,1)" font-family="&quot;Liberation Sans&quot;, sans-serif" font-size="7.42" fill="#50535e" text-anchor="middle" font-weight="normal" dominant-baseline="central" text-rendering="geometricPrecision" >25</text><text transform="translate(433.30,474.50) scale(0.9434,1)" font-family="&quot;Liberation Sans&quot;, sans-serif" font-size="7.42" fill="#50535e" text-anchor="middle" font-weight="normal" dominant-baseline="central" text-rendering="geometricPrecision" >27</text><text transform="translate(486.70,474.50) scale(0.9434,1)" font-family="&quot;Liberation Sans&quot;, sans-serif" font-size="7.42" fill="#50535e" text-anchor="middle" font-weight="normal" dominant-baseline="central" text-rendering="geometricPrecision" >Sep</text><text transform="translate(525.30,474.50) scale(0.9434,1)" font-family="&quot;Liberation Sans&quot;, sans-serif" font-size="7.42" fill="#50535e" text-anchor="middle" font-weight="normal" dominant-baseline="central" text-rendering="geometricPrecision" >3</text><text transform="translate(561.00,474.50) scale(0.9434,1)" font-family="&quot;Liberation Sans&quot;, sans-serif" font-size="7.42" fill="#50535e" text-anchor="middle" font-weight="normal" dominant-baseline="central" text-rendering="geometricPrecision" >5</text><text transform="translate(599.30,474.50) scale(0.9434,1)" font-family="&quot;Liberation Sans&quot;, sans-serif" font-size="7.42" fill="#50535e" text-anchor="middle" font-weight="normal" dominant-baseline="central" text-rendering="geometricPrecision" >9</text><text transform="translate(635.70,474.50) scale(0.9434,1)" font-family="&quot;Liberation Sans&quot;, sans-serif" font-size="7.42" fill="#50535e" text-anchor="middle" font-weight="normal" dominant-baseline="central" text-rendering="geometricPrecision" >11</text><text transform="translate(671.00,474.50) scale(0.9434,1)" font-family="&quot;Liberation Sans&quot;, sans-serif" font-size="7.42" fill="#50535e" text-anchor="middle" font-weight="normal" dominant-baseline="central" text-rendering="geometricPrecision" >15</text><text transform="translate(710.00,474.50) scale(0.9434,1)" font-family="&quot;Liberation Sans&quot;, sans-serif" font-size="7.42" fill="#50535e" text-anchor="middle" font-weight="normal" dominant-baseline="central" text-rendering="geometricPrecision" >17</text><text transform="translate(745.00,474.50) scale(0.9434,1)" font-family="&quot;Liberation Sans&quot;, sans-serif" font-size="7.42" fill="#50535e" text-anchor="middle" font-weight="normal" dominant-baseline="central" text-rendering="geometricPrecision" >19</text><text transform="translate(783.30,474.50) scale(0.9434,1)" font-family="&quot;Liberation Sans&quot;, sans-serif" font-size="7.42" fill="#50535e" text-anchor="middle" font-weight="normal" dominant-baseline="central" text-rendering="geometricPrecision" >23</text><text transform="translate(819.00,474.50) scale(0.9434,1)" font-family="&quot;Liberation Sans&quot;, sans-serif" font-size="7.42" fill="#50535e" text-anchor="middle" font-weight="normal" dominant-baseline="central" text-rendering="geometricPrecision" >25</text><text transform="translate(855.00,474.50) scale(0.9434,1)" font-family="&quot;Liberation Sans&quot;, sans-serif" font-size="7.42" fill="#50535e" text-anchor="middle" font-weight="normal" dominant-baseline="central" text-rendering="geometricPrecision" >29</text><text transform="translate(5.80,3.00) scale(0.8929,1)" font-family="&quot;Liberation Sans&quot;, sans-serif" font-size="8.13" fill="#131722" text-anchor="start" font-weight="normal" dominant-baseline="central" text-rendering="geometricPrecision" stroke="#131722" stroke-width="0.12">gmzern created with TradingView.com, Sep 29, 2025 12:24 UTC-4</text><text transform="translate(10.70,19.30) scale(0.8475,1)" font-family="&quot;Liberation Sans&quot;, sans-serif" font-size="8.38" fill="#50535e" text-anchor="start" font-weight="normal" dominant-baseline="central" text-rendering="geometricPrecision" >U.S. Dollar Index · 4h · TVC</text><text transform="translate(104.10,19.30) scale(0.8475,1)" font-family="&quot;Liberation Sans&quot;, sans-serif" font-size="8.26" fill="#50535e" text-anchor="start" font-weight="normal" dominant-baseline="central" text-rendering="geometricPrecision" >O<tspan fill="#1c9e8c">97.800</tspan></text><text transform="translate(134.60,19.30) scale(0.8475,1)" font-family="&quot;Liberation Sans&quot;, sans-serif" font-size="8.26" fill="#50535e" text-anchor="start" font-weight="normal" dominant-baseline="central" text-rendering="geometricPrecision" >H<tspan fill="#1c9e8c">97.972</tspan></text><text transform="translate(165.40,19.30) scale(0.8475,1)" font-family="&quot;Liberation Sans&quot;, sans-serif" font-size="8.26" fill="#50535e" text-anchor="start" font-weight="normal" dominant-baseline="central" text-rendering="geometricPrecision" >L<tspan fill="#1c9e8c">97.774</tspan></text><text transform="translate(194.50,19.30) scale(0.8475,1)" font-family="&quot;Liberation Sans&quot;, sans-serif" font-size="8.02" fill="#50535e" text-anchor="start" font-weight="normal" dominant-baseline="central" text-rendering="geometricPrecision" >C<tspan fill="#1c9e8c">97.908</tspan></text><text transform="translate(225.40,19.30) scale(0.8475,1)" font-family="&quot;Liberation Sans&quot;, sans-serif" font-size="8.09" fill="#1c9e8c" text-anchor="start" font-weight="normal" dominant-baseline="central" text-rendering="geometricPrecision" >+0.107 (+0.11%)</text><text transform="translate(10.70,29.20) scale(0.8475,1)" font-family="&quot;Liberation Sans&quot;, sans-serif" font-size="8.38" fill="#50535e" text-anchor="start" font-weight="normal" dominant-baseline="central" text-rendering="geometricPrecision" >SMA (50, close)</text><text transform="translate(64.10,29.20) scale(0.8475,1)" font-family="&quot;Liberation Sans&quot;, sans-serif" font-size="8.26" fill="#2962ff" text-anchor="start" font-weight="normal" dominant-baseline="central" text-rendering="geometricPrecision" >97.661</text><text transform="translate(10.80,358.50) scale(0.8475,1)" font-family="&quot;Liberation Sans&quot;, sans-serif" font-size="8.26" fill="#50535e" text-anchor="start" font-weight="normal" dominant-baseline="central" text-rendering="geometricPrecision" >RSI (14, close, SMA, 14, 2)</text><text transform="translate(100.00,358.50) scale(0.8475,1)" font-family="&quot;Liberation Sans&quot;, sans-serif" font-size="8.26" fill="#7e57c2" text-anchor="start" font-weight="normal" dominant-baseline="central" text-rendering="geometricPrecision" stroke="#7e57c2" stroke-width="0.15">49.48</text><text transform="translate(122.00,358.50) scale(0.8475,1)" font-family="&quot;Liberation Sans&quot;, sans-serif" font-size="8.26" fill="#f0d66a" text-anchor="start" font-weight="normal" dominant-baseline="central" text-rendering="geometricPrecision" stroke="#f0d66a" stroke-width="0.15">62.22</text><ellipse cx="146.4" cy="358.5" rx="1.9" ry="2.5" fill="none" stroke="#3d4049" stroke-width="0.9"/><line x1="144.8" y1="360.9" x2="148.0" y2="356.1" stroke="#3d4049" stroke-width="0.8"/><ellipse cx="155.6" cy="358.5" rx="1.9" ry="2.5" fill="none" stroke="#3d4049" stroke-width="0.9"/><line x1="154.0" y1="360.9" x2="157.2" y2="356.1" stroke="#3d4049" stroke-width="0.8"/><path d="M7.1,496H14V504.9H10.7V499.5H7.1Z" fill="#131722"/><circle cx="17.5" cy="497.8" r="1.7" fill="#131722"/><path d="M20.8,496H24.7L21.8,504.9H17.9Z" fill="#131722"/></svg>
<div class="t" style="left:30.0px;top:495.1px;font-size:12.3px;font-weight:normal;color:#131722;letter-spacing:0.42px;-webkit-text-stroke:0.7px #131722">TradingView</div>
</body></html>
